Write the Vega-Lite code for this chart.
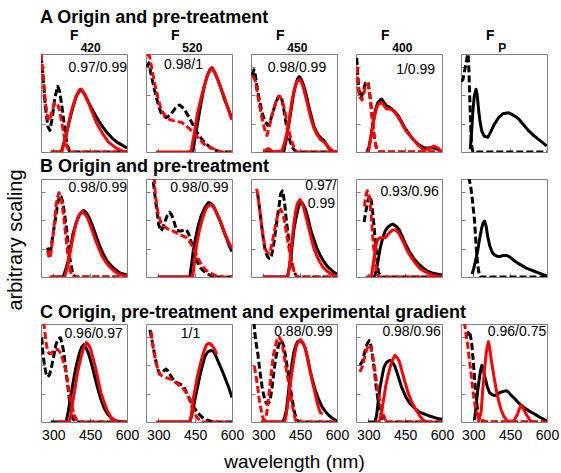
{
"$schema": "https://vega.github.io/schema/vega-lite/v6.json",
"background": "white",
"padding": {"left": 5, "top": 8, "right": 5, "bottom": 5},
"config": {
 "view": {"stroke": "#808080", "strokeWidth": 1},
 "font": "Liberation Sans",
 "axis": {"domain": false, "grid": false, "tickSize": -4, "tickColor": "#808080", "labelFontSize": 14, "labelColor": "#000", "labelPadding": 10, "labelFlush": false, "titleFontSize": 19, "titleFontWeight": "normal", "titleColor": "#000"},
 "title": {"color": "#000", "subtitleColor": "#000"},
 "concat": {"spacing": 19}
},
"title": {"text": "arbitrary scaling", "orient": "left", "anchor": "middle", "fontSize": 20, "fontWeight": "normal", "offset": 14},
"datasets": {
"labels": [
{"p":"A1","t":"0.97/0.99","x":600,"y":0.82},
{"p":"A2","t":"0.98/1","x":482,"y":0.85},
{"p":"A3","t":"0.98/0.99","x":556,"y":0.82},
{"p":"A4","t":"1/0.99","x":572,"y":0.8},
{"p":"B1","t":"0.98/0.99","x":600,"y":0.87},
{"p":"B2","t":"0.98/0.99","x":586,"y":0.87},
{"p":"B3","t":"0.97/","x":598,"y":0.89},
{"p":"B3","t":"0.99","x":592,"y":0.7},
{"p":"B4","t":"0.93/0.96","x":587,"y":0.83},
{"p":"C1","t":"0.96/0.97","x":583,"y":0.86},
{"p":"C2","t":"1/1","x":471,"y":0.86},
{"p":"C3","t":"0.88/0.99","x":582,"y":0.875},
{"p":"C4","t":"0.98/0.96","x":595,"y":0.875},
{"p":"C5","t":"0.96/0.75","x":597,"y":0.875}
],
"curves": [
{"p":"A1","s":"black","k":"ex","x":250,"y":0.98},{"p":"A1","s":"black","k":"ex","x":258,"y":0.8},{"p":"A1","s":"black","k":"ex","x":268,"y":0.45},{"p":"A1","s":"black","k":"ex","x":278,"y":0.26},{"p":"A1","s":"black","k":"ex","x":286,"y":0.22},{"p":"A1","s":"black","k":"ex","x":296,"y":0.35},{"p":"A1","s":"black","k":"ex","x":306,"y":0.55},{"p":"A1","s":"black","k":"ex","x":318,"y":0.67},{"p":"A1","s":"black","k":"ex","x":326,"y":0.62},{"p":"A1","s":"black","k":"ex","x":336,"y":0.45},{"p":"A1","s":"black","k":"ex","x":346,"y":0.25},{"p":"A1","s":"black","k":"ex","x":356,"y":0.08},{"p":"A1","s":"black","k":"ex","x":366,"y":0.01},{"p":"A1","s":"black","k":"ex","x":380,"y":0},{"p":"A1","s":"black","k":"ex","x":600,"y":0},
{"p":"A1","s":"black","k":"em","x":290,"y":0},{"p":"A1","s":"black","k":"em","x":332,"y":0},{"p":"A1","s":"black","k":"em","x":350,"y":0.15},{"p":"A1","s":"black","k":"em","x":367,"y":0.33},{"p":"A1","s":"black","k":"em","x":380,"y":0.46},{"p":"A1","s":"black","k":"em","x":394,"y":0.57},{"p":"A1","s":"black","k":"em","x":411,"y":0.64},{"p":"A1","s":"black","k":"em","x":425,"y":0.6},{"p":"A1","s":"black","k":"em","x":435,"y":0.55},{"p":"A1","s":"black","k":"em","x":455,"y":0.45},{"p":"A1","s":"black","k":"em","x":477,"y":0.35},{"p":"A1","s":"black","k":"em","x":500,"y":0.26},{"p":"A1","s":"black","k":"em","x":518,"y":0.2},{"p":"A1","s":"black","k":"em","x":540,"y":0.14},{"p":"A1","s":"black","k":"em","x":559,"y":0.1},{"p":"A1","s":"black","k":"em","x":580,"y":0.07},{"p":"A1","s":"black","k":"em","x":600,"y":0.04},
{"p":"A1","s":"red","k":"ex","x":250,"y":1.0},{"p":"A1","s":"red","k":"ex","x":258,"y":0.8},{"p":"A1","s":"red","k":"ex","x":268,"y":0.5},{"p":"A1","s":"red","k":"ex","x":278,"y":0.34},{"p":"A1","s":"red","k":"ex","x":285,"y":0.32},{"p":"A1","s":"red","k":"ex","x":295,"y":0.42},{"p":"A1","s":"red","k":"ex","x":306,"y":0.5},{"p":"A1","s":"red","k":"ex","x":316,"y":0.5},{"p":"A1","s":"red","k":"ex","x":326,"y":0.42},{"p":"A1","s":"red","k":"ex","x":336,"y":0.28},{"p":"A1","s":"red","k":"ex","x":346,"y":0.14},{"p":"A1","s":"red","k":"ex","x":356,"y":0.05},{"p":"A1","s":"red","k":"ex","x":366,"y":0},{"p":"A1","s":"red","k":"ex","x":600,"y":0},
{"p":"A1","s":"red","k":"em","x":290,"y":0},{"p":"A1","s":"red","k":"em","x":335,"y":0},{"p":"A1","s":"red","k":"em","x":350,"y":0.15},{"p":"A1","s":"red","k":"em","x":370,"y":0.38},{"p":"A1","s":"red","k":"em","x":390,"y":0.55},{"p":"A1","s":"red","k":"em","x":405,"y":0.63},{"p":"A1","s":"red","k":"em","x":415,"y":0.64},{"p":"A1","s":"red","k":"em","x":430,"y":0.58},{"p":"A1","s":"red","k":"em","x":450,"y":0.46},{"p":"A1","s":"red","k":"em","x":475,"y":0.3},{"p":"A1","s":"red","k":"em","x":500,"y":0.19},{"p":"A1","s":"red","k":"em","x":525,"y":0.1},{"p":"A1","s":"red","k":"em","x":550,"y":0.05},{"p":"A1","s":"red","k":"em","x":575,"y":0.015},{"p":"A1","s":"red","k":"em","x":600,"y":0},

{"p":"A2","s":"black","k":"ex","x":254,"y":0.87},{"p":"A2","s":"black","k":"ex","x":262,"y":0.91},{"p":"A2","s":"black","k":"ex","x":270,"y":0.8},{"p":"A2","s":"black","k":"ex","x":284,"y":0.64},{"p":"A2","s":"black","k":"ex","x":298,"y":0.5},{"p":"A2","s":"black","k":"ex","x":311,"y":0.4},{"p":"A2","s":"black","k":"ex","x":331,"y":0.35},{"p":"A2","s":"black","k":"ex","x":350,"y":0.38},{"p":"A2","s":"black","k":"ex","x":370,"y":0.45},{"p":"A2","s":"black","k":"ex","x":386,"y":0.48},{"p":"A2","s":"black","k":"ex","x":405,"y":0.44},{"p":"A2","s":"black","k":"ex","x":426,"y":0.35},{"p":"A2","s":"black","k":"ex","x":445,"y":0.26},{"p":"A2","s":"black","k":"ex","x":460,"y":0.19},{"p":"A2","s":"black","k":"ex","x":480,"y":0.12},{"p":"A2","s":"black","k":"ex","x":501,"y":0.07},{"p":"A2","s":"black","k":"ex","x":520,"y":0.03},{"p":"A2","s":"black","k":"ex","x":542,"y":0.01},{"p":"A2","s":"black","k":"ex","x":560,"y":0},{"p":"A2","s":"black","k":"ex","x":600,"y":0},
{"p":"A2","s":"black","k":"em","x":420,"y":0},{"p":"A2","s":"black","k":"em","x":440,"y":0},{"p":"A2","s":"black","k":"em","x":457,"y":0.25},{"p":"A2","s":"black","k":"em","x":474,"y":0.5},{"p":"A2","s":"black","k":"em","x":488,"y":0.68},{"p":"A2","s":"black","k":"em","x":501,"y":0.79},{"p":"A2","s":"black","k":"em","x":510,"y":0.84},{"p":"A2","s":"black","k":"em","x":519,"y":0.86},{"p":"A2","s":"black","k":"em","x":530,"y":0.81},{"p":"A2","s":"black","k":"em","x":542,"y":0.74},{"p":"A2","s":"black","k":"em","x":555,"y":0.65},{"p":"A2","s":"black","k":"em","x":569,"y":0.54},{"p":"A2","s":"black","k":"em","x":585,"y":0.44},{"p":"A2","s":"black","k":"em","x":600,"y":0.34},
{"p":"A2","s":"red","k":"ex","x":253,"y":1.0},{"p":"A2","s":"red","k":"ex","x":264,"y":0.98},{"p":"A2","s":"red","k":"ex","x":274,"y":0.85},{"p":"A2","s":"red","k":"ex","x":284,"y":0.71},{"p":"A2","s":"red","k":"ex","x":298,"y":0.56},{"p":"A2","s":"red","k":"ex","x":311,"y":0.44},{"p":"A2","s":"red","k":"ex","x":325,"y":0.38},{"p":"A2","s":"red","k":"ex","x":338,"y":0.34},{"p":"A2","s":"red","k":"ex","x":360,"y":0.32},{"p":"A2","s":"red","k":"ex","x":379,"y":0.31},{"p":"A2","s":"red","k":"ex","x":396,"y":0.3},{"p":"A2","s":"red","k":"ex","x":413,"y":0.27},{"p":"A2","s":"red","k":"ex","x":430,"y":0.23},{"p":"A2","s":"red","k":"ex","x":447,"y":0.19},{"p":"A2","s":"red","k":"ex","x":467,"y":0.13},{"p":"A2","s":"red","k":"ex","x":487,"y":0.08},{"p":"A2","s":"red","k":"ex","x":508,"y":0.05},{"p":"A2","s":"red","k":"ex","x":528,"y":0.03},{"p":"A2","s":"red","k":"ex","x":555,"y":0},{"p":"A2","s":"red","k":"ex","x":600,"y":0},
{"p":"A2","s":"red","k":"em","x":291,"y":0},{"p":"A2","s":"red","k":"em","x":433,"y":0},{"p":"A2","s":"red","k":"em","x":447,"y":0.2},{"p":"A2","s":"red","k":"em","x":460,"y":0.4},{"p":"A2","s":"red","k":"em","x":474,"y":0.55},{"p":"A2","s":"red","k":"em","x":487,"y":0.67},{"p":"A2","s":"red","k":"em","x":498,"y":0.77},{"p":"A2","s":"red","k":"em","x":508,"y":0.82},{"p":"A2","s":"red","k":"em","x":517,"y":0.86},{"p":"A2","s":"red","k":"em","x":530,"y":0.81},{"p":"A2","s":"red","k":"em","x":542,"y":0.74},{"p":"A2","s":"red","k":"em","x":555,"y":0.65},{"p":"A2","s":"red","k":"em","x":569,"y":0.56},{"p":"A2","s":"red","k":"em","x":583,"y":0.45},{"p":"A2","s":"red","k":"em","x":596,"y":0.35},{"p":"A2","s":"red","k":"em","x":600,"y":0.33},

{"p":"A3","s":"black","k":"ex","x":254,"y":0.78},{"p":"A3","s":"black","k":"ex","x":262,"y":0.84},{"p":"A3","s":"black","k":"ex","x":268,"y":0.78},{"p":"A3","s":"black","k":"ex","x":274,"y":0.67},{"p":"A3","s":"black","k":"ex","x":285,"y":0.52},{"p":"A3","s":"black","k":"ex","x":295,"y":0.4},{"p":"A3","s":"black","k":"ex","x":306,"y":0.32},{"p":"A3","s":"black","k":"ex","x":318,"y":0.27},{"p":"A3","s":"black","k":"ex","x":330,"y":0.33},{"p":"A3","s":"black","k":"ex","x":342,"y":0.43},{"p":"A3","s":"black","k":"ex","x":352,"y":0.51},{"p":"A3","s":"black","k":"ex","x":363,"y":0.57},{"p":"A3","s":"black","k":"ex","x":370,"y":0.57},{"p":"A3","s":"black","k":"ex","x":376,"y":0.53},{"p":"A3","s":"black","k":"ex","x":383,"y":0.44},{"p":"A3","s":"black","k":"ex","x":390,"y":0.33},{"p":"A3","s":"black","k":"ex","x":400,"y":0.2},{"p":"A3","s":"black","k":"ex","x":410,"y":0.1},{"p":"A3","s":"black","k":"ex","x":420,"y":0.04},{"p":"A3","s":"black","k":"ex","x":430,"y":0.01},{"p":"A3","s":"black","k":"ex","x":440,"y":0},{"p":"A3","s":"black","k":"ex","x":600,"y":0},
{"p":"A3","s":"black","k":"em","x":300,"y":0},{"p":"A3","s":"black","k":"em","x":383,"y":0},{"p":"A3","s":"black","k":"em","x":393,"y":0.12},{"p":"A3","s":"black","k":"em","x":403,"y":0.27},{"p":"A3","s":"black","k":"em","x":414,"y":0.44},{"p":"A3","s":"black","k":"em","x":424,"y":0.6},{"p":"A3","s":"black","k":"em","x":432,"y":0.69},{"p":"A3","s":"black","k":"em","x":440,"y":0.75},{"p":"A3","s":"black","k":"em","x":447,"y":0.77},{"p":"A3","s":"black","k":"em","x":455,"y":0.74},{"p":"A3","s":"black","k":"em","x":464,"y":0.68},{"p":"A3","s":"black","k":"em","x":475,"y":0.58},{"p":"A3","s":"black","k":"em","x":485,"y":0.47},{"p":"A3","s":"black","k":"em","x":495,"y":0.37},{"p":"A3","s":"black","k":"em","x":505,"y":0.27},{"p":"A3","s":"black","k":"em","x":515,"y":0.21},{"p":"A3","s":"black","k":"em","x":525,"y":0.17},{"p":"A3","s":"black","k":"em","x":535,"y":0.14},{"p":"A3","s":"black","k":"em","x":546,"y":0.12},{"p":"A3","s":"black","k":"em","x":556,"y":0.08},{"p":"A3","s":"black","k":"em","x":566,"y":0.04},{"p":"A3","s":"black","k":"em","x":580,"y":0},{"p":"A3","s":"black","k":"em","x":600,"y":0},
{"p":"A3","s":"red","k":"ex","x":254,"y":0.77},{"p":"A3","s":"red","k":"ex","x":261,"y":0.76},{"p":"A3","s":"red","k":"ex","x":268,"y":0.72},{"p":"A3","s":"red","k":"ex","x":274,"y":0.63},{"p":"A3","s":"red","k":"ex","x":281,"y":0.53},{"p":"A3","s":"red","k":"ex","x":291,"y":0.39},{"p":"A3","s":"red","k":"ex","x":302,"y":0.27},{"p":"A3","s":"red","k":"ex","x":308,"y":0.21},{"p":"A3","s":"red","k":"ex","x":315,"y":0.17},{"p":"A3","s":"red","k":"ex","x":325,"y":0.26},{"p":"A3","s":"red","k":"ex","x":335,"y":0.37},{"p":"A3","s":"red","k":"ex","x":345,"y":0.46},{"p":"A3","s":"red","k":"ex","x":356,"y":0.55},{"p":"A3","s":"red","k":"ex","x":367,"y":0.57},{"p":"A3","s":"red","k":"ex","x":375,"y":0.53},{"p":"A3","s":"red","k":"ex","x":383,"y":0.47},{"p":"A3","s":"red","k":"ex","x":393,"y":0.35},{"p":"A3","s":"red","k":"ex","x":403,"y":0.23},{"p":"A3","s":"red","k":"ex","x":413,"y":0.13},{"p":"A3","s":"red","k":"ex","x":424,"y":0.05},{"p":"A3","s":"red","k":"ex","x":437,"y":0},{"p":"A3","s":"red","k":"ex","x":600,"y":0},
{"p":"A3","s":"red","k":"em","x":300,"y":0},{"p":"A3","s":"red","k":"em","x":310,"y":0.02},{"p":"A3","s":"red","k":"em","x":322,"y":0.035},{"p":"A3","s":"red","k":"em","x":335,"y":0.01},{"p":"A3","s":"red","k":"em","x":342,"y":0},{"p":"A3","s":"red","k":"em","x":376,"y":0.01},{"p":"A3","s":"red","k":"em","x":387,"y":0.1},{"p":"A3","s":"red","k":"em","x":397,"y":0.2},{"p":"A3","s":"red","k":"em","x":407,"y":0.36},{"p":"A3","s":"red","k":"em","x":417,"y":0.53},{"p":"A3","s":"red","k":"em","x":427,"y":0.64},{"p":"A3","s":"red","k":"em","x":437,"y":0.72},{"p":"A3","s":"red","k":"em","x":448,"y":0.74},{"p":"A3","s":"red","k":"em","x":456,"y":0.71},{"p":"A3","s":"red","k":"em","x":464,"y":0.65},{"p":"A3","s":"red","k":"em","x":475,"y":0.54},{"p":"A3","s":"red","k":"em","x":485,"y":0.43},{"p":"A3","s":"red","k":"em","x":495,"y":0.33},{"p":"A3","s":"red","k":"em","x":505,"y":0.25},{"p":"A3","s":"red","k":"em","x":518,"y":0.18},{"p":"A3","s":"red","k":"em","x":532,"y":0.13},{"p":"A3","s":"red","k":"em","x":543,"y":0.11},{"p":"A3","s":"red","k":"em","x":553,"y":0.09},{"p":"A3","s":"red","k":"em","x":563,"y":0.06},{"p":"A3","s":"red","k":"em","x":573,"y":0.03},{"p":"A3","s":"red","k":"em","x":585,"y":0.01},{"p":"A3","s":"red","k":"em","x":593,"y":0},

{"p":"A4","s":"black","k":"ex","x":253,"y":0.96},{"p":"A4","s":"black","k":"ex","x":257,"y":0.8},{"p":"A4","s":"black","k":"ex","x":261,"y":0.65},{"p":"A4","s":"black","k":"ex","x":266,"y":0.58},{"p":"A4","s":"black","k":"ex","x":271,"y":0.55},{"p":"A4","s":"black","k":"ex","x":279,"y":0.62},{"p":"A4","s":"black","k":"ex","x":288,"y":0.7},{"p":"A4","s":"black","k":"ex","x":298,"y":0.72},{"p":"A4","s":"black","k":"ex","x":303,"y":0.65},{"p":"A4","s":"black","k":"ex","x":308,"y":0.55},{"p":"A4","s":"black","k":"ex","x":314,"y":0.4},{"p":"A4","s":"black","k":"ex","x":321,"y":0.21},{"p":"A4","s":"black","k":"ex","x":328,"y":0.1},{"p":"A4","s":"black","k":"ex","x":334,"y":0.03},{"p":"A4","s":"black","k":"ex","x":345,"y":0},{"p":"A4","s":"black","k":"ex","x":600,"y":0},
{"p":"A4","s":"black","k":"em","x":294,"y":0},{"p":"A4","s":"black","k":"em","x":303,"y":0.05},{"p":"A4","s":"black","k":"em","x":312,"y":0.18},{"p":"A4","s":"black","k":"em","x":320,"y":0.3},{"p":"A4","s":"black","k":"em","x":328,"y":0.42},{"p":"A4","s":"black","k":"em","x":338,"y":0.5},{"p":"A4","s":"black","k":"em","x":348,"y":0.53},{"p":"A4","s":"black","k":"em","x":355,"y":0.54},{"p":"A4","s":"black","k":"em","x":365,"y":0.5},{"p":"A4","s":"black","k":"em","x":375,"y":0.47},{"p":"A4","s":"black","k":"em","x":385,"y":0.46},{"p":"A4","s":"black","k":"em","x":395,"y":0.44},{"p":"A4","s":"black","k":"em","x":408,"y":0.41},{"p":"A4","s":"black","k":"em","x":422,"y":0.37},{"p":"A4","s":"black","k":"em","x":435,"y":0.31},{"p":"A4","s":"black","k":"em","x":448,"y":0.25},{"p":"A4","s":"black","k":"em","x":462,"y":0.2},{"p":"A4","s":"black","k":"em","x":475,"y":0.15},{"p":"A4","s":"black","k":"em","x":490,"y":0.11},{"p":"A4","s":"black","k":"em","x":502,"y":0.08},{"p":"A4","s":"black","k":"em","x":515,"y":0.06},{"p":"A4","s":"black","k":"em","x":529,"y":0.04},{"p":"A4","s":"black","k":"em","x":545,"y":0.04},{"p":"A4","s":"black","k":"em","x":556,"y":0.04},{"p":"A4","s":"black","k":"em","x":568,"y":0.04},{"p":"A4","s":"black","k":"em","x":580,"y":0.03},{"p":"A4","s":"black","k":"em","x":596,"y":0.01},{"p":"A4","s":"black","k":"em","x":600,"y":0.01},
{"p":"A4","s":"red","k":"ex","x":253,"y":0.87},{"p":"A4","s":"red","k":"ex","x":257,"y":0.74},{"p":"A4","s":"red","k":"ex","x":261,"y":0.62},{"p":"A4","s":"red","k":"ex","x":267,"y":0.56},{"p":"A4","s":"red","k":"ex","x":274,"y":0.53},{"p":"A4","s":"red","k":"ex","x":282,"y":0.6},{"p":"A4","s":"red","k":"ex","x":290,"y":0.69},{"p":"A4","s":"red","k":"ex","x":297,"y":0.69},{"p":"A4","s":"red","k":"ex","x":301,"y":0.67},{"p":"A4","s":"red","k":"ex","x":306,"y":0.58},{"p":"A4","s":"red","k":"ex","x":312,"y":0.45},{"p":"A4","s":"red","k":"ex","x":318,"y":0.3},{"p":"A4","s":"red","k":"ex","x":325,"y":0.15},{"p":"A4","s":"red","k":"ex","x":331,"y":0.06},{"p":"A4","s":"red","k":"ex","x":338,"y":0.01},{"p":"A4","s":"red","k":"ex","x":345,"y":0},{"p":"A4","s":"red","k":"ex","x":600,"y":0},
{"p":"A4","s":"red","k":"em","x":290,"y":0},{"p":"A4","s":"red","k":"em","x":301,"y":0},{"p":"A4","s":"red","k":"em","x":309,"y":0.12},{"p":"A4","s":"red","k":"em","x":317,"y":0.25},{"p":"A4","s":"red","k":"em","x":325,"y":0.36},{"p":"A4","s":"red","k":"em","x":334,"y":0.45},{"p":"A4","s":"red","k":"em","x":342,"y":0.49},{"p":"A4","s":"red","k":"em","x":350,"y":0.5},{"p":"A4","s":"red","k":"em","x":360,"y":0.49},{"p":"A4","s":"red","k":"em","x":368,"y":0.46},{"p":"A4","s":"red","k":"em","x":375,"y":0.44},{"p":"A4","s":"red","k":"em","x":381,"y":0.44},{"p":"A4","s":"red","k":"em","x":390,"y":0.44},{"p":"A4","s":"red","k":"em","x":402,"y":0.42},{"p":"A4","s":"red","k":"em","x":415,"y":0.38},{"p":"A4","s":"red","k":"em","x":428,"y":0.33},{"p":"A4","s":"red","k":"em","x":441,"y":0.27},{"p":"A4","s":"red","k":"em","x":455,"y":0.21},{"p":"A4","s":"red","k":"em","x":472,"y":0.16},{"p":"A4","s":"red","k":"em","x":489,"y":0.11},{"p":"A4","s":"red","k":"em","x":503,"y":0.07},{"p":"A4","s":"red","k":"em","x":516,"y":0.04},{"p":"A4","s":"red","k":"em","x":529,"y":0.01},{"p":"A4","s":"red","k":"em","x":539,"y":0.03},{"p":"A4","s":"red","k":"em","x":549,"y":0.04},{"p":"A4","s":"red","k":"em","x":558,"y":0.05},{"p":"A4","s":"red","k":"em","x":567,"y":0.06},{"p":"A4","s":"red","k":"em","x":576,"y":0.05},{"p":"A4","s":"red","k":"em","x":585,"y":0.04},{"p":"A4","s":"red","k":"em","x":591,"y":0.02},{"p":"A4","s":"red","k":"em","x":596,"y":0},

{"p":"A5","s":"black","k":"ex","x":251,"y":0.72},{"p":"A5","s":"black","k":"ex","x":258,"y":0.74},{"p":"A5","s":"black","k":"ex","x":264,"y":0.82},{"p":"A5","s":"black","k":"ex","x":270,"y":0.9},{"p":"A5","s":"black","k":"ex","x":276,"y":0.98},{"p":"A5","s":"black","k":"ex","x":279,"y":1.0},{"p":"A5","s":"black","k":"ex","x":282,"y":0.85},{"p":"A5","s":"black","k":"ex","x":285,"y":0.6},{"p":"A5","s":"black","k":"ex","x":289,"y":0.3},{"p":"A5","s":"black","k":"ex","x":292,"y":0.1},{"p":"A5","s":"black","k":"ex","x":296,"y":0.02},{"p":"A5","s":"black","k":"ex","x":300,"y":0},{"p":"A5","s":"black","k":"ex","x":600,"y":0},
{"p":"A5","s":"black","k":"em","x":288,"y":0.03},{"p":"A5","s":"black","k":"em","x":293,"y":0.2},{"p":"A5","s":"black","k":"em","x":298,"y":0.4},{"p":"A5","s":"black","k":"em","x":304,"y":0.57},{"p":"A5","s":"black","k":"em","x":311,"y":0.64},{"p":"A5","s":"black","k":"em","x":316,"y":0.58},{"p":"A5","s":"black","k":"em","x":322,"y":0.42},{"p":"A5","s":"black","k":"em","x":328,"y":0.3},{"p":"A5","s":"black","k":"em","x":335,"y":0.21},{"p":"A5","s":"black","k":"em","x":345,"y":0.16},{"p":"A5","s":"black","k":"em","x":359,"y":0.15},{"p":"A5","s":"black","k":"em","x":370,"y":0.2},{"p":"A5","s":"black","k":"em","x":385,"y":0.28},{"p":"A5","s":"black","k":"em","x":403,"y":0.35},{"p":"A5","s":"black","k":"em","x":420,"y":0.39},{"p":"A5","s":"black","k":"em","x":443,"y":0.4},{"p":"A5","s":"black","k":"em","x":460,"y":0.38},{"p":"A5","s":"black","k":"em","x":484,"y":0.34},{"p":"A5","s":"black","k":"em","x":504,"y":0.28},{"p":"A5","s":"black","k":"em","x":524,"y":0.22},{"p":"A5","s":"black","k":"em","x":545,"y":0.17},{"p":"A5","s":"black","k":"em","x":565,"y":0.13},{"p":"A5","s":"black","k":"em","x":585,"y":0.09},{"p":"A5","s":"black","k":"em","x":599,"y":0.06},

{"p":"B1","s":"black","k":"ex","x":277,"y":0.3},{"p":"B1","s":"black","k":"ex","x":284,"y":0.22},{"p":"B1","s":"black","k":"ex","x":290,"y":0.28},{"p":"B1","s":"black","k":"ex","x":295,"y":0.37},{"p":"B1","s":"black","k":"ex","x":303,"y":0.5},{"p":"B1","s":"black","k":"ex","x":312,"y":0.64},{"p":"B1","s":"black","k":"ex","x":318,"y":0.75},{"p":"B1","s":"black","k":"ex","x":325,"y":0.83},{"p":"B1","s":"black","k":"ex","x":332,"y":0.82},{"p":"B1","s":"black","k":"ex","x":339,"y":0.76},{"p":"B1","s":"black","k":"ex","x":346,"y":0.64},{"p":"B1","s":"black","k":"ex","x":353,"y":0.51},{"p":"B1","s":"black","k":"ex","x":360,"y":0.35},{"p":"B1","s":"black","k":"ex","x":367,"y":0.2},{"p":"B1","s":"black","k":"ex","x":374,"y":0.1},{"p":"B1","s":"black","k":"ex","x":380,"y":0.03},{"p":"B1","s":"black","k":"ex","x":390,"y":0},{"p":"B1","s":"black","k":"ex","x":600,"y":0},
{"p":"B1","s":"black","k":"em","x":290,"y":0},{"p":"B1","s":"black","k":"em","x":339,"y":0},{"p":"B1","s":"black","k":"em","x":350,"y":0.07},{"p":"B1","s":"black","k":"em","x":360,"y":0.16},{"p":"B1","s":"black","k":"em","x":370,"y":0.3},{"p":"B1","s":"black","k":"em","x":380,"y":0.44},{"p":"B1","s":"black","k":"em","x":394,"y":0.56},{"p":"B1","s":"black","k":"em","x":408,"y":0.64},{"p":"B1","s":"black","k":"em","x":424,"y":0.68},{"p":"B1","s":"black","k":"em","x":436,"y":0.65},{"p":"B1","s":"black","k":"em","x":449,"y":0.59},{"p":"B1","s":"black","k":"em","x":463,"y":0.5},{"p":"B1","s":"black","k":"em","x":477,"y":0.4},{"p":"B1","s":"black","k":"em","x":490,"y":0.31},{"p":"B1","s":"black","k":"em","x":504,"y":0.23},{"p":"B1","s":"black","k":"em","x":520,"y":0.16},{"p":"B1","s":"black","k":"em","x":538,"y":0.11},{"p":"B1","s":"black","k":"em","x":555,"y":0.07},{"p":"B1","s":"black","k":"em","x":573,"y":0.04},{"p":"B1","s":"black","k":"em","x":600,"y":0.02},
{"p":"B1","s":"red","k":"ex","x":277,"y":0.27},{"p":"B1","s":"red","k":"ex","x":282,"y":0.21},{"p":"B1","s":"red","k":"ex","x":287,"y":0.19},{"p":"B1","s":"red","k":"ex","x":292,"y":0.28},{"p":"B1","s":"red","k":"ex","x":298,"y":0.4},{"p":"B1","s":"red","k":"ex","x":305,"y":0.57},{"p":"B1","s":"red","k":"ex","x":312,"y":0.74},{"p":"B1","s":"red","k":"ex","x":318,"y":0.82},{"p":"B1","s":"red","k":"ex","x":323,"y":0.86},{"p":"B1","s":"red","k":"ex","x":330,"y":0.82},{"p":"B1","s":"red","k":"ex","x":336,"y":0.74},{"p":"B1","s":"red","k":"ex","x":343,"y":0.6},{"p":"B1","s":"red","k":"ex","x":350,"y":0.44},{"p":"B1","s":"red","k":"ex","x":357,"y":0.28},{"p":"B1","s":"red","k":"ex","x":364,"y":0.13},{"p":"B1","s":"red","k":"ex","x":371,"y":0.05},{"p":"B1","s":"red","k":"ex","x":378,"y":0},{"p":"B1","s":"red","k":"ex","x":600,"y":0},
{"p":"B1","s":"red","k":"em","x":284,"y":0},{"p":"B1","s":"red","k":"em","x":346,"y":0},{"p":"B1","s":"red","k":"em","x":353,"y":0.06},{"p":"B1","s":"red","k":"em","x":360,"y":0.13},{"p":"B1","s":"red","k":"em","x":370,"y":0.27},{"p":"B1","s":"red","k":"em","x":380,"y":0.4},{"p":"B1","s":"red","k":"em","x":390,"y":0.52},{"p":"B1","s":"red","k":"em","x":401,"y":0.61},{"p":"B1","s":"red","k":"em","x":410,"y":0.65},{"p":"B1","s":"red","k":"em","x":419,"y":0.67},{"p":"B1","s":"red","k":"em","x":430,"y":0.64},{"p":"B1","s":"red","k":"em","x":442,"y":0.59},{"p":"B1","s":"red","k":"em","x":456,"y":0.49},{"p":"B1","s":"red","k":"em","x":470,"y":0.39},{"p":"B1","s":"red","k":"em","x":484,"y":0.3},{"p":"B1","s":"red","k":"em","x":497,"y":0.22},{"p":"B1","s":"red","k":"em","x":514,"y":0.15},{"p":"B1","s":"red","k":"em","x":531,"y":0.1},{"p":"B1","s":"red","k":"em","x":548,"y":0.06},{"p":"B1","s":"red","k":"em","x":566,"y":0.03},{"p":"B1","s":"red","k":"em","x":583,"y":0.015},{"p":"B1","s":"red","k":"em","x":600,"y":0.01},

{"p":"B2","s":"black","k":"ex","x":280,"y":0.97},{"p":"B2","s":"black","k":"ex","x":285,"y":0.86},{"p":"B2","s":"black","k":"ex","x":291,"y":0.74},{"p":"B2","s":"black","k":"ex","x":297,"y":0.63},{"p":"B2","s":"black","k":"ex","x":302,"y":0.53},{"p":"B2","s":"black","k":"ex","x":312,"y":0.47},{"p":"B2","s":"black","k":"ex","x":318,"y":0.5},{"p":"B2","s":"black","k":"ex","x":325,"y":0.55},{"p":"B2","s":"black","k":"ex","x":335,"y":0.62},{"p":"B2","s":"black","k":"ex","x":346,"y":0.66},{"p":"B2","s":"black","k":"ex","x":353,"y":0.64},{"p":"B2","s":"black","k":"ex","x":360,"y":0.6},{"p":"B2","s":"black","k":"ex","x":367,"y":0.54},{"p":"B2","s":"black","k":"ex","x":374,"y":0.48},{"p":"B2","s":"black","k":"ex","x":384,"y":0.47},{"p":"B2","s":"black","k":"ex","x":394,"y":0.47},{"p":"B2","s":"black","k":"ex","x":405,"y":0.48},{"p":"B2","s":"black","k":"ex","x":415,"y":0.48},{"p":"B2","s":"black","k":"ex","x":422,"y":0.45},{"p":"B2","s":"black","k":"ex","x":428,"y":0.41},{"p":"B2","s":"black","k":"ex","x":438,"y":0.32},{"p":"B2","s":"black","k":"ex","x":449,"y":0.22},{"p":"B2","s":"black","k":"ex","x":460,"y":0.15},{"p":"B2","s":"black","k":"ex","x":470,"y":0.1},{"p":"B2","s":"black","k":"ex","x":480,"y":0.07},{"p":"B2","s":"black","k":"ex","x":490,"y":0.05},{"p":"B2","s":"black","k":"ex","x":500,"y":0.03},{"p":"B2","s":"black","k":"ex","x":511,"y":0.02},{"p":"B2","s":"black","k":"ex","x":531,"y":0},{"p":"B2","s":"black","k":"ex","x":600,"y":0},
{"p":"B2","s":"black","k":"em","x":300,"y":0},{"p":"B2","s":"black","k":"em","x":428,"y":0},{"p":"B2","s":"black","k":"em","x":435,"y":0.12},{"p":"B2","s":"black","k":"em","x":442,"y":0.26},{"p":"B2","s":"black","k":"em","x":452,"y":0.4},{"p":"B2","s":"black","k":"em","x":463,"y":0.53},{"p":"B2","s":"black","k":"em","x":474,"y":0.62},{"p":"B2","s":"black","k":"em","x":486,"y":0.69},{"p":"B2","s":"black","k":"em","x":495,"y":0.73},{"p":"B2","s":"black","k":"em","x":504,"y":0.76},{"p":"B2","s":"black","k":"em","x":514,"y":0.75},{"p":"B2","s":"black","k":"em","x":525,"y":0.72},{"p":"B2","s":"black","k":"em","x":538,"y":0.65},{"p":"B2","s":"black","k":"em","x":552,"y":0.57},{"p":"B2","s":"black","k":"em","x":566,"y":0.47},{"p":"B2","s":"black","k":"em","x":580,"y":0.38},{"p":"B2","s":"black","k":"em","x":590,"y":0.31},{"p":"B2","s":"black","k":"em","x":600,"y":0.26},
{"p":"B2","s":"red","k":"ex","x":283,"y":1.02},{"p":"B2","s":"red","k":"ex","x":288,"y":0.84},{"p":"B2","s":"red","k":"ex","x":293,"y":0.75},{"p":"B2","s":"red","k":"ex","x":298,"y":0.67},{"p":"B2","s":"red","k":"ex","x":305,"y":0.6},{"p":"B2","s":"red","k":"ex","x":312,"y":0.55},{"p":"B2","s":"red","k":"ex","x":322,"y":0.52},{"p":"B2","s":"red","k":"ex","x":332,"y":0.5},{"p":"B2","s":"red","k":"ex","x":346,"y":0.48},{"p":"B2","s":"red","k":"ex","x":360,"y":0.47},{"p":"B2","s":"red","k":"ex","x":374,"y":0.45},{"p":"B2","s":"red","k":"ex","x":387,"y":0.43},{"p":"B2","s":"red","k":"ex","x":400,"y":0.42},{"p":"B2","s":"red","k":"ex","x":415,"y":0.4},{"p":"B2","s":"red","k":"ex","x":425,"y":0.37},{"p":"B2","s":"red","k":"ex","x":435,"y":0.33},{"p":"B2","s":"red","k":"ex","x":445,"y":0.28},{"p":"B2","s":"red","k":"ex","x":456,"y":0.22},{"p":"B2","s":"red","k":"ex","x":466,"y":0.17},{"p":"B2","s":"red","k":"ex","x":477,"y":0.12},{"p":"B2","s":"red","k":"ex","x":490,"y":0.08},{"p":"B2","s":"red","k":"ex","x":504,"y":0.05},{"p":"B2","s":"red","k":"ex","x":520,"y":0.03},{"p":"B2","s":"red","k":"ex","x":538,"y":0.01},{"p":"B2","s":"red","k":"ex","x":560,"y":0},{"p":"B2","s":"red","k":"ex","x":600,"y":0},
{"p":"B2","s":"red","k":"em","x":298,"y":0},{"p":"B2","s":"red","k":"em","x":440,"y":0},{"p":"B2","s":"red","k":"em","x":448,"y":0.16},{"p":"B2","s":"red","k":"em","x":456,"y":0.33},{"p":"B2","s":"red","k":"em","x":466,"y":0.46},{"p":"B2","s":"red","k":"em","x":477,"y":0.57},{"p":"B2","s":"red","k":"em","x":487,"y":0.65},{"p":"B2","s":"red","k":"em","x":497,"y":0.71},{"p":"B2","s":"red","k":"em","x":506,"y":0.73},{"p":"B2","s":"red","k":"em","x":514,"y":0.74},{"p":"B2","s":"red","k":"em","x":522,"y":0.72},{"p":"B2","s":"red","k":"em","x":531,"y":0.69},{"p":"B2","s":"red","k":"em","x":545,"y":0.61},{"p":"B2","s":"red","k":"em","x":559,"y":0.53},{"p":"B2","s":"red","k":"em","x":572,"y":0.44},{"p":"B2","s":"red","k":"em","x":586,"y":0.36},{"p":"B2","s":"red","k":"em","x":600,"y":0.29},

{"p":"B3","s":"black","k":"ex","x":277,"y":0.85},{"p":"B3","s":"black","k":"ex","x":284,"y":0.72},{"p":"B3","s":"black","k":"ex","x":290,"y":0.59},{"p":"B3","s":"black","k":"ex","x":297,"y":0.45},{"p":"B3","s":"black","k":"ex","x":304,"y":0.32},{"p":"B3","s":"black","k":"ex","x":310,"y":0.25},{"p":"B3","s":"black","k":"ex","x":317,"y":0.21},{"p":"B3","s":"black","k":"ex","x":324,"y":0.19},{"p":"B3","s":"black","k":"ex","x":331,"y":0.19},{"p":"B3","s":"black","k":"ex","x":337,"y":0.26},{"p":"B3","s":"black","k":"ex","x":344,"y":0.36},{"p":"B3","s":"black","k":"ex","x":351,"y":0.49},{"p":"B3","s":"black","k":"ex","x":358,"y":0.62},{"p":"B3","s":"black","k":"ex","x":365,"y":0.74},{"p":"B3","s":"black","k":"ex","x":371,"y":0.85},{"p":"B3","s":"black","k":"ex","x":378,"y":0.88},{"p":"B3","s":"black","k":"ex","x":383,"y":0.82},{"p":"B3","s":"black","k":"ex","x":387,"y":0.75},{"p":"B3","s":"black","k":"ex","x":392,"y":0.62},{"p":"B3","s":"black","k":"ex","x":398,"y":0.49},{"p":"B3","s":"black","k":"ex","x":405,"y":0.35},{"p":"B3","s":"black","k":"ex","x":412,"y":0.22},{"p":"B3","s":"black","k":"ex","x":418,"y":0.13},{"p":"B3","s":"black","k":"ex","x":425,"y":0.06},{"p":"B3","s":"black","k":"ex","x":432,"y":0.02},{"p":"B3","s":"black","k":"ex","x":438,"y":0},{"p":"B3","s":"black","k":"ex","x":600,"y":0},
{"p":"B3","s":"black","k":"em","x":300,"y":0},{"p":"B3","s":"black","k":"em","x":398,"y":0},{"p":"B3","s":"black","k":"em","x":405,"y":0.08},{"p":"B3","s":"black","k":"em","x":412,"y":0.19},{"p":"B3","s":"black","k":"em","x":418,"y":0.33},{"p":"B3","s":"black","k":"em","x":425,"y":0.49},{"p":"B3","s":"black","k":"em","x":433,"y":0.6},{"p":"B3","s":"black","k":"em","x":441,"y":0.69},{"p":"B3","s":"black","k":"em","x":447,"y":0.74},{"p":"B3","s":"black","k":"em","x":452,"y":0.77},{"p":"B3","s":"black","k":"em","x":460,"y":0.75},{"p":"B3","s":"black","k":"em","x":472,"y":0.69},{"p":"B3","s":"black","k":"em","x":482,"y":0.6},{"p":"B3","s":"black","k":"em","x":492,"y":0.49},{"p":"B3","s":"black","k":"em","x":505,"y":0.39},{"p":"B3","s":"black","k":"em","x":519,"y":0.29},{"p":"B3","s":"black","k":"em","x":532,"y":0.22},{"p":"B3","s":"black","k":"em","x":546,"y":0.16},{"p":"B3","s":"black","k":"em","x":560,"y":0.11},{"p":"B3","s":"black","k":"em","x":573,"y":0.08},{"p":"B3","s":"black","k":"em","x":586,"y":0.05},{"p":"B3","s":"black","k":"em","x":600,"y":0.03},
{"p":"B3","s":"red","k":"ex","x":272,"y":0.9},{"p":"B3","s":"red","k":"ex","x":275,"y":0.88},{"p":"B3","s":"red","k":"ex","x":279,"y":0.8},{"p":"B3","s":"red","k":"ex","x":284,"y":0.72},{"p":"B3","s":"red","k":"ex","x":290,"y":0.59},{"p":"B3","s":"red","k":"ex","x":297,"y":0.45},{"p":"B3","s":"red","k":"ex","x":304,"y":0.35},{"p":"B3","s":"red","k":"ex","x":311,"y":0.27},{"p":"B3","s":"red","k":"ex","x":317,"y":0.25},{"p":"B3","s":"red","k":"ex","x":324,"y":0.24},{"p":"B3","s":"red","k":"ex","x":330,"y":0.28},{"p":"B3","s":"red","k":"ex","x":337,"y":0.36},{"p":"B3","s":"red","k":"ex","x":344,"y":0.45},{"p":"B3","s":"red","k":"ex","x":351,"y":0.55},{"p":"B3","s":"red","k":"ex","x":358,"y":0.62},{"p":"B3","s":"red","k":"ex","x":364,"y":0.67},{"p":"B3","s":"red","k":"ex","x":371,"y":0.69},{"p":"B3","s":"red","k":"ex","x":378,"y":0.65},{"p":"B3","s":"red","k":"ex","x":385,"y":0.59},{"p":"B3","s":"red","k":"ex","x":391,"y":0.5},{"p":"B3","s":"red","k":"ex","x":398,"y":0.39},{"p":"B3","s":"red","k":"ex","x":405,"y":0.29},{"p":"B3","s":"red","k":"ex","x":412,"y":0.19},{"p":"B3","s":"red","k":"ex","x":418,"y":0.12},{"p":"B3","s":"red","k":"ex","x":425,"y":0.06},{"p":"B3","s":"red","k":"ex","x":432,"y":0.02},{"p":"B3","s":"red","k":"ex","x":438,"y":0},{"p":"B3","s":"red","k":"ex","x":600,"y":0},
{"p":"B3","s":"red","k":"em","x":297,"y":0},{"p":"B3","s":"red","k":"em","x":400,"y":0},{"p":"B3","s":"red","k":"em","x":406,"y":0.1},{"p":"B3","s":"red","k":"em","x":412,"y":0.26},{"p":"B3","s":"red","k":"em","x":418,"y":0.4},{"p":"B3","s":"red","k":"em","x":425,"y":0.55},{"p":"B3","s":"red","k":"em","x":431,"y":0.66},{"p":"B3","s":"red","k":"em","x":438,"y":0.74},{"p":"B3","s":"red","k":"em","x":444,"y":0.77},{"p":"B3","s":"red","k":"em","x":449,"y":0.79},{"p":"B3","s":"red","k":"em","x":457,"y":0.76},{"p":"B3","s":"red","k":"em","x":465,"y":0.7},{"p":"B3","s":"red","k":"em","x":475,"y":0.6},{"p":"B3","s":"red","k":"em","x":486,"y":0.49},{"p":"B3","s":"red","k":"em","x":496,"y":0.39},{"p":"B3","s":"red","k":"em","x":506,"y":0.29},{"p":"B3","s":"red","k":"em","x":519,"y":0.21},{"p":"B3","s":"red","k":"em","x":533,"y":0.14},{"p":"B3","s":"red","k":"em","x":546,"y":0.09},{"p":"B3","s":"red","k":"em","x":560,"y":0.06},{"p":"B3","s":"red","k":"em","x":575,"y":0.03},{"p":"B3","s":"red","k":"em","x":593,"y":0.01},{"p":"B3","s":"red","k":"em","x":600,"y":0.01},

{"p":"B4","s":"black","k":"ex","x":283,"y":0.56},{"p":"B4","s":"black","k":"ex","x":287,"y":0.62},{"p":"B4","s":"black","k":"ex","x":291,"y":0.68},{"p":"B4","s":"black","k":"ex","x":296,"y":0.75},{"p":"B4","s":"black","k":"ex","x":301,"y":0.8},{"p":"B4","s":"black","k":"ex","x":307,"y":0.83},{"p":"B4","s":"black","k":"ex","x":312,"y":0.78},{"p":"B4","s":"black","k":"ex","x":318,"y":0.66},{"p":"B4","s":"black","k":"ex","x":323,"y":0.53},{"p":"B4","s":"black","k":"ex","x":328,"y":0.39},{"p":"B4","s":"black","k":"ex","x":333,"y":0.25},{"p":"B4","s":"black","k":"ex","x":337,"y":0.12},{"p":"B4","s":"black","k":"ex","x":342,"y":0.05},{"p":"B4","s":"black","k":"ex","x":348,"y":0.02},{"p":"B4","s":"black","k":"ex","x":355,"y":0},{"p":"B4","s":"black","k":"ex","x":600,"y":0},
{"p":"B4","s":"black","k":"em","x":300,"y":0},{"p":"B4","s":"black","k":"em","x":320,"y":0},{"p":"B4","s":"black","k":"em","x":328,"y":0.02},{"p":"B4","s":"black","k":"em","x":338,"y":0.14},{"p":"B4","s":"black","k":"em","x":348,"y":0.29},{"p":"B4","s":"black","k":"em","x":358,"y":0.39},{"p":"B4","s":"black","k":"em","x":369,"y":0.47},{"p":"B4","s":"black","k":"em","x":380,"y":0.51},{"p":"B4","s":"black","k":"em","x":390,"y":0.53},{"p":"B4","s":"black","k":"em","x":400,"y":0.54},{"p":"B4","s":"black","k":"em","x":412,"y":0.52},{"p":"B4","s":"black","k":"em","x":424,"y":0.49},{"p":"B4","s":"black","k":"em","x":437,"y":0.42},{"p":"B4","s":"black","k":"em","x":451,"y":0.34},{"p":"B4","s":"black","k":"em","x":467,"y":0.26},{"p":"B4","s":"black","k":"em","x":485,"y":0.19},{"p":"B4","s":"black","k":"em","x":502,"y":0.14},{"p":"B4","s":"black","k":"em","x":519,"y":0.1},{"p":"B4","s":"black","k":"em","x":540,"y":0.06},{"p":"B4","s":"black","k":"em","x":560,"y":0.04},{"p":"B4","s":"black","k":"em","x":580,"y":0.03},{"p":"B4","s":"black","k":"em","x":600,"y":0.02},
{"p":"B4","s":"red","k":"ex","x":285,"y":0.72},{"p":"B4","s":"red","k":"ex","x":287,"y":0.78},{"p":"B4","s":"red","k":"ex","x":291,"y":0.84},{"p":"B4","s":"red","k":"ex","x":296,"y":0.88},{"p":"B4","s":"red","k":"ex","x":301,"y":0.85},{"p":"B4","s":"red","k":"ex","x":307,"y":0.76},{"p":"B4","s":"red","k":"ex","x":312,"y":0.62},{"p":"B4","s":"red","k":"ex","x":318,"y":0.42},{"p":"B4","s":"red","k":"ex","x":323,"y":0.28},{"p":"B4","s":"red","k":"ex","x":328,"y":0.15},{"p":"B4","s":"red","k":"ex","x":333,"y":0.07},{"p":"B4","s":"red","k":"ex","x":337,"y":0.02},{"p":"B4","s":"red","k":"ex","x":345,"y":0},{"p":"B4","s":"red","k":"ex","x":600,"y":0},
{"p":"B4","s":"red","k":"em","x":290,"y":0},{"p":"B4","s":"red","k":"em","x":312,"y":0},{"p":"B4","s":"red","k":"em","x":316,"y":0.06},{"p":"B4","s":"red","k":"em","x":321,"y":0.15},{"p":"B4","s":"red","k":"em","x":328,"y":0.27},{"p":"B4","s":"red","k":"em","x":335,"y":0.36},{"p":"B4","s":"red","k":"em","x":342,"y":0.39},{"p":"B4","s":"red","k":"em","x":348,"y":0.4},{"p":"B4","s":"red","k":"em","x":358,"y":0.4},{"p":"B4","s":"red","k":"em","x":369,"y":0.4},{"p":"B4","s":"red","k":"em","x":379,"y":0.43},{"p":"B4","s":"red","k":"em","x":389,"y":0.46},{"p":"B4","s":"red","k":"em","x":400,"y":0.48},{"p":"B4","s":"red","k":"em","x":410,"y":0.48},{"p":"B4","s":"red","k":"em","x":420,"y":0.46},{"p":"B4","s":"red","k":"em","x":430,"y":0.42},{"p":"B4","s":"red","k":"em","x":444,"y":0.35},{"p":"B4","s":"red","k":"em","x":458,"y":0.27},{"p":"B4","s":"red","k":"em","x":475,"y":0.2},{"p":"B4","s":"red","k":"em","x":492,"y":0.14},{"p":"B4","s":"red","k":"em","x":509,"y":0.09},{"p":"B4","s":"red","k":"em","x":526,"y":0.06},{"p":"B4","s":"red","k":"em","x":543,"y":0.04},{"p":"B4","s":"red","k":"em","x":560,"y":0.02},{"p":"B4","s":"red","k":"em","x":577,"y":0.01},{"p":"B4","s":"red","k":"em","x":594,"y":0},

{"p":"B5","s":"black","k":"ex","x":281,"y":1.02},{"p":"B5","s":"black","k":"ex","x":284,"y":0.99},{"p":"B5","s":"black","k":"ex","x":289,"y":0.93},{"p":"B5","s":"black","k":"ex","x":294,"y":0.84},{"p":"B5","s":"black","k":"ex","x":299,"y":0.72},{"p":"B5","s":"black","k":"ex","x":305,"y":0.58},{"p":"B5","s":"black","k":"ex","x":309,"y":0.42},{"p":"B5","s":"black","k":"ex","x":313,"y":0.27},{"p":"B5","s":"black","k":"ex","x":317,"y":0.15},{"p":"B5","s":"black","k":"ex","x":321,"y":0.07},{"p":"B5","s":"black","k":"ex","x":325,"y":0.02},{"p":"B5","s":"black","k":"ex","x":329,"y":0},{"p":"B5","s":"black","k":"ex","x":600,"y":0},
{"p":"B5","s":"black","k":"em","x":295,"y":0.03},{"p":"B5","s":"black","k":"em","x":300,"y":0.07},{"p":"B5","s":"black","k":"em","x":306,"y":0.13},{"p":"B5","s":"black","k":"em","x":312,"y":0.2},{"p":"B5","s":"black","k":"em","x":318,"y":0.27},{"p":"B5","s":"black","k":"em","x":325,"y":0.38},{"p":"B5","s":"black","k":"em","x":335,"y":0.51},{"p":"B5","s":"black","k":"em","x":340,"y":0.55},{"p":"B5","s":"black","k":"em","x":346,"y":0.57},{"p":"B5","s":"black","k":"em","x":352,"y":0.52},{"p":"B5","s":"black","k":"em","x":359,"y":0.41},{"p":"B5","s":"black","k":"em","x":367,"y":0.32},{"p":"B5","s":"black","k":"em","x":374,"y":0.27},{"p":"B5","s":"black","k":"em","x":380,"y":0.24},{"p":"B5","s":"black","k":"em","x":390,"y":0.22},{"p":"B5","s":"black","k":"em","x":400,"y":0.21},{"p":"B5","s":"black","k":"em","x":410,"y":0.21},{"p":"B5","s":"black","k":"em","x":422,"y":0.22},{"p":"B5","s":"black","k":"em","x":435,"y":0.22},{"p":"B5","s":"black","k":"em","x":445,"y":0.21},{"p":"B5","s":"black","k":"em","x":455,"y":0.19},{"p":"B5","s":"black","k":"em","x":470,"y":0.16},{"p":"B5","s":"black","k":"em","x":482,"y":0.14},{"p":"B5","s":"black","k":"em","x":496,"y":0.12},{"p":"B5","s":"black","k":"em","x":516,"y":0.09},{"p":"B5","s":"black","k":"em","x":537,"y":0.07},{"p":"B5","s":"black","k":"em","x":557,"y":0.05},{"p":"B5","s":"black","k":"em","x":578,"y":0.03},{"p":"B5","s":"black","k":"em","x":600,"y":0.01},

{"p":"C1","s":"black","k":"ex","x":253,"y":0.86},{"p":"C1","s":"black","k":"ex","x":258,"y":0.7},{"p":"C1","s":"black","k":"ex","x":264,"y":0.58},{"p":"C1","s":"black","k":"ex","x":270,"y":0.5},{"p":"C1","s":"black","k":"ex","x":277,"y":0.46},{"p":"C1","s":"black","k":"ex","x":284,"y":0.48},{"p":"C1","s":"black","k":"ex","x":291,"y":0.54},{"p":"C1","s":"black","k":"ex","x":300,"y":0.65},{"p":"C1","s":"black","k":"ex","x":311,"y":0.79},{"p":"C1","s":"black","k":"ex","x":320,"y":0.85},{"p":"C1","s":"black","k":"ex","x":329,"y":0.86},{"p":"C1","s":"black","k":"ex","x":336,"y":0.8},{"p":"C1","s":"black","k":"ex","x":342,"y":0.72},{"p":"C1","s":"black","k":"ex","x":350,"y":0.55},{"p":"C1","s":"black","k":"ex","x":359,"y":0.37},{"p":"C1","s":"black","k":"ex","x":366,"y":0.22},{"p":"C1","s":"black","k":"ex","x":372,"y":0.11},{"p":"C1","s":"black","k":"ex","x":379,"y":0.04},{"p":"C1","s":"black","k":"ex","x":386,"y":0.01},{"p":"C1","s":"black","k":"ex","x":395,"y":0},{"p":"C1","s":"black","k":"ex","x":600,"y":0},
{"p":"C1","s":"black","k":"em","x":290,"y":0},{"p":"C1","s":"black","k":"em","x":352,"y":0},{"p":"C1","s":"black","k":"em","x":358,"y":0.07},{"p":"C1","s":"black","k":"em","x":365,"y":0.17},{"p":"C1","s":"black","k":"em","x":375,"y":0.32},{"p":"C1","s":"black","k":"em","x":386,"y":0.48},{"p":"C1","s":"black","k":"em","x":396,"y":0.6},{"p":"C1","s":"black","k":"em","x":406,"y":0.7},{"p":"C1","s":"black","k":"em","x":415,"y":0.76},{"p":"C1","s":"black","k":"em","x":424,"y":0.79},{"p":"C1","s":"black","k":"em","x":433,"y":0.76},{"p":"C1","s":"black","k":"em","x":443,"y":0.7},{"p":"C1","s":"black","k":"em","x":455,"y":0.6},{"p":"C1","s":"black","k":"em","x":467,"y":0.48},{"p":"C1","s":"black","k":"em","x":480,"y":0.35},{"p":"C1","s":"black","k":"em","x":494,"y":0.23},{"p":"C1","s":"black","k":"em","x":507,"y":0.14},{"p":"C1","s":"black","k":"em","x":521,"y":0.08},{"p":"C1","s":"black","k":"em","x":535,"y":0.04},{"p":"C1","s":"black","k":"em","x":549,"y":0.02},{"p":"C1","s":"black","k":"em","x":565,"y":0.005},{"p":"C1","s":"black","k":"em","x":576,"y":0},{"p":"C1","s":"black","k":"em","x":600,"y":0},
{"p":"C1","s":"red","k":"ex","x":260,"y":1.02},{"p":"C1","s":"red","k":"ex","x":264,"y":0.96},{"p":"C1","s":"red","k":"ex","x":270,"y":0.82},{"p":"C1","s":"red","k":"ex","x":277,"y":0.72},{"p":"C1","s":"red","k":"ex","x":284,"y":0.7},{"p":"C1","s":"red","k":"ex","x":291,"y":0.7},{"p":"C1","s":"red","k":"ex","x":298,"y":0.72},{"p":"C1","s":"red","k":"ex","x":304,"y":0.73},{"p":"C1","s":"red","k":"ex","x":311,"y":0.74},{"p":"C1","s":"red","k":"ex","x":318,"y":0.74},{"p":"C1","s":"red","k":"ex","x":325,"y":0.72},{"p":"C1","s":"red","k":"ex","x":331,"y":0.7},{"p":"C1","s":"red","k":"ex","x":338,"y":0.64},{"p":"C1","s":"red","k":"ex","x":345,"y":0.58},{"p":"C1","s":"red","k":"ex","x":352,"y":0.51},{"p":"C1","s":"red","k":"ex","x":358,"y":0.41},{"p":"C1","s":"red","k":"ex","x":365,"y":0.3},{"p":"C1","s":"red","k":"ex","x":372,"y":0.2},{"p":"C1","s":"red","k":"ex","x":379,"y":0.13},{"p":"C1","s":"red","k":"ex","x":386,"y":0.07},{"p":"C1","s":"red","k":"ex","x":392,"y":0.03},{"p":"C1","s":"red","k":"ex","x":399,"y":0.01},{"p":"C1","s":"red","k":"ex","x":410,"y":0},{"p":"C1","s":"red","k":"ex","x":600,"y":0},
{"p":"C1","s":"red","k":"em","x":318,"y":0},{"p":"C1","s":"red","k":"em","x":365,"y":0},{"p":"C1","s":"red","k":"em","x":372,"y":0.08},{"p":"C1","s":"red","k":"em","x":379,"y":0.2},{"p":"C1","s":"red","k":"em","x":389,"y":0.35},{"p":"C1","s":"red","k":"em","x":399,"y":0.51},{"p":"C1","s":"red","k":"em","x":410,"y":0.63},{"p":"C1","s":"red","k":"em","x":420,"y":0.73},{"p":"C1","s":"red","k":"em","x":428,"y":0.78},{"p":"C1","s":"red","k":"em","x":435,"y":0.81},{"p":"C1","s":"red","k":"em","x":443,"y":0.79},{"p":"C1","s":"red","k":"em","x":451,"y":0.75},{"p":"C1","s":"red","k":"em","x":462,"y":0.65},{"p":"C1","s":"red","k":"em","x":474,"y":0.53},{"p":"C1","s":"red","k":"em","x":484,"y":0.41},{"p":"C1","s":"red","k":"em","x":494,"y":0.3},{"p":"C1","s":"red","k":"em","x":507,"y":0.2},{"p":"C1","s":"red","k":"em","x":521,"y":0.11},{"p":"C1","s":"red","k":"em","x":535,"y":0.05},{"p":"C1","s":"red","k":"em","x":549,"y":0.02},{"p":"C1","s":"red","k":"em","x":563,"y":0},

{"p":"C2","s":"black","k":"ex","x":266,"y":0.94},{"p":"C2","s":"black","k":"ex","x":271,"y":0.87},{"p":"C2","s":"black","k":"ex","x":277,"y":0.8},{"p":"C2","s":"black","k":"ex","x":284,"y":0.7},{"p":"C2","s":"black","k":"ex","x":291,"y":0.61},{"p":"C2","s":"black","k":"ex","x":298,"y":0.54},{"p":"C2","s":"black","k":"ex","x":305,"y":0.49},{"p":"C2","s":"black","k":"ex","x":312,"y":0.49},{"p":"C2","s":"black","k":"ex","x":319,"y":0.51},{"p":"C2","s":"black","k":"ex","x":326,"y":0.53},{"p":"C2","s":"black","k":"ex","x":332,"y":0.54},{"p":"C2","s":"black","k":"ex","x":339,"y":0.52},{"p":"C2","s":"black","k":"ex","x":346,"y":0.49},{"p":"C2","s":"black","k":"ex","x":356,"y":0.45},{"p":"C2","s":"black","k":"ex","x":367,"y":0.42},{"p":"C2","s":"black","k":"ex","x":377,"y":0.4},{"p":"C2","s":"black","k":"ex","x":387,"y":0.39},{"p":"C2","s":"black","k":"ex","x":394,"y":0.38},{"p":"C2","s":"black","k":"ex","x":401,"y":0.37},{"p":"C2","s":"black","k":"ex","x":408,"y":0.34},{"p":"C2","s":"black","k":"ex","x":415,"y":0.3},{"p":"C2","s":"black","k":"ex","x":425,"y":0.25},{"p":"C2","s":"black","k":"ex","x":435,"y":0.2},{"p":"C2","s":"black","k":"ex","x":445,"y":0.15},{"p":"C2","s":"black","k":"ex","x":456,"y":0.11},{"p":"C2","s":"black","k":"ex","x":470,"y":0.07},{"p":"C2","s":"black","k":"ex","x":483,"y":0.04},{"p":"C2","s":"black","k":"ex","x":497,"y":0.02},{"p":"C2","s":"black","k":"ex","x":511,"y":0.01},{"p":"C2","s":"black","k":"ex","x":525,"y":0},{"p":"C2","s":"black","k":"ex","x":600,"y":0},
{"p":"C2","s":"black","k":"em","x":300,"y":0},{"p":"C2","s":"black","k":"em","x":428,"y":0},{"p":"C2","s":"black","k":"em","x":435,"y":0.06},{"p":"C2","s":"black","k":"em","x":442,"y":0.13},{"p":"C2","s":"black","k":"em","x":449,"y":0.23},{"p":"C2","s":"black","k":"em","x":460,"y":0.36},{"p":"C2","s":"black","k":"em","x":470,"y":0.48},{"p":"C2","s":"black","k":"em","x":480,"y":0.58},{"p":"C2","s":"black","k":"em","x":490,"y":0.67},{"p":"C2","s":"black","k":"em","x":497,"y":0.7},{"p":"C2","s":"black","k":"em","x":504,"y":0.72},{"p":"C2","s":"black","k":"em","x":515,"y":0.73},{"p":"C2","s":"black","k":"em","x":525,"y":0.72},{"p":"C2","s":"black","k":"em","x":535,"y":0.67},{"p":"C2","s":"black","k":"em","x":545,"y":0.61},{"p":"C2","s":"black","k":"em","x":559,"y":0.53},{"p":"C2","s":"black","k":"em","x":573,"y":0.44},{"p":"C2","s":"black","k":"em","x":587,"y":0.35},{"p":"C2","s":"black","k":"em","x":600,"y":0.25},
{"p":"C2","s":"red","k":"ex","x":271,"y":0.92},{"p":"C2","s":"red","k":"ex","x":275,"y":0.84},{"p":"C2","s":"red","k":"ex","x":280,"y":0.75},{"p":"C2","s":"red","k":"ex","x":286,"y":0.67},{"p":"C2","s":"red","k":"ex","x":291,"y":0.6},{"p":"C2","s":"red","k":"ex","x":298,"y":0.54},{"p":"C2","s":"red","k":"ex","x":305,"y":0.49},{"p":"C2","s":"red","k":"ex","x":315,"y":0.47},{"p":"C2","s":"red","k":"ex","x":325,"y":0.46},{"p":"C2","s":"red","k":"ex","x":335,"y":0.45},{"p":"C2","s":"red","k":"ex","x":346,"y":0.44},{"p":"C2","s":"red","k":"ex","x":356,"y":0.43},{"p":"C2","s":"red","k":"ex","x":367,"y":0.41},{"p":"C2","s":"red","k":"ex","x":377,"y":0.39},{"p":"C2","s":"red","k":"ex","x":387,"y":0.37},{"p":"C2","s":"red","k":"ex","x":398,"y":0.35},{"p":"C2","s":"red","k":"ex","x":408,"y":0.32},{"p":"C2","s":"red","k":"ex","x":418,"y":0.28},{"p":"C2","s":"red","k":"ex","x":428,"y":0.22},{"p":"C2","s":"red","k":"ex","x":436,"y":0.16},{"p":"C2","s":"red","k":"ex","x":445,"y":0.11},{"p":"C2","s":"red","k":"ex","x":454,"y":0.06},{"p":"C2","s":"red","k":"ex","x":463,"y":0.03},{"p":"C2","s":"red","k":"ex","x":475,"y":0},{"p":"C2","s":"red","k":"ex","x":600,"y":0},
{"p":"C2","s":"red","k":"em","x":291,"y":0},{"p":"C2","s":"red","k":"em","x":430,"y":0},{"p":"C2","s":"red","k":"em","x":436,"y":0.1},{"p":"C2","s":"red","k":"em","x":442,"y":0.23},{"p":"C2","s":"red","k":"em","x":452,"y":0.37},{"p":"C2","s":"red","k":"em","x":463,"y":0.51},{"p":"C2","s":"red","k":"em","x":473,"y":0.61},{"p":"C2","s":"red","k":"em","x":483,"y":0.7},{"p":"C2","s":"red","k":"em","x":490,"y":0.75},{"p":"C2","s":"red","k":"em","x":497,"y":0.79},{"p":"C2","s":"red","k":"em","x":504,"y":0.8},{"p":"C2","s":"red","k":"em","x":511,"y":0.8},{"p":"C2","s":"red","k":"em","x":519,"y":0.78},{"p":"C2","s":"red","k":"em","x":527,"y":0.75},{"p":"C2","s":"red","k":"em","x":533,"y":0.72},{"p":"C2","s":"red","k":"em","x":538,"y":0.69},

{"p":"C3","s":"black","k":"ex","x":262,"y":1.02},{"p":"C3","s":"black","k":"ex","x":266,"y":0.9},{"p":"C3","s":"black","k":"ex","x":271,"y":0.8},{"p":"C3","s":"black","k":"ex","x":277,"y":0.71},{"p":"C3","s":"black","k":"ex","x":286,"y":0.52},{"p":"C3","s":"black","k":"ex","x":295,"y":0.36},{"p":"C3","s":"black","k":"ex","x":303,"y":0.26},{"p":"C3","s":"black","k":"ex","x":312,"y":0.19},{"p":"C3","s":"black","k":"ex","x":320,"y":0.19},{"p":"C3","s":"black","k":"ex","x":328,"y":0.22},{"p":"C3","s":"black","k":"ex","x":337,"y":0.38},{"p":"C3","s":"black","k":"ex","x":346,"y":0.57},{"p":"C3","s":"black","k":"ex","x":353,"y":0.68},{"p":"C3","s":"black","k":"ex","x":360,"y":0.76},{"p":"C3","s":"black","k":"ex","x":369,"y":0.83},{"p":"C3","s":"black","k":"ex","x":376,"y":0.82},{"p":"C3","s":"black","k":"ex","x":383,"y":0.78},{"p":"C3","s":"black","k":"ex","x":392,"y":0.65},{"p":"C3","s":"black","k":"ex","x":401,"y":0.5},{"p":"C3","s":"black","k":"ex","x":410,"y":0.35},{"p":"C3","s":"black","k":"ex","x":419,"y":0.21},{"p":"C3","s":"black","k":"ex","x":427,"y":0.1},{"p":"C3","s":"black","k":"ex","x":435,"y":0.03},{"p":"C3","s":"black","k":"ex","x":445,"y":0},{"p":"C3","s":"black","k":"ex","x":600,"y":0},
{"p":"C3","s":"black","k":"em","x":291,"y":0},{"p":"C3","s":"black","k":"em","x":380,"y":0},{"p":"C3","s":"black","k":"em","x":387,"y":0.05},{"p":"C3","s":"black","k":"em","x":394,"y":0.12},{"p":"C3","s":"black","k":"em","x":401,"y":0.27},{"p":"C3","s":"black","k":"em","x":408,"y":0.43},{"p":"C3","s":"black","k":"em","x":416,"y":0.58},{"p":"C3","s":"black","k":"em","x":424,"y":0.71},{"p":"C3","s":"black","k":"em","x":432,"y":0.78},{"p":"C3","s":"black","k":"em","x":440,"y":0.82},{"p":"C3","s":"black","k":"em","x":449,"y":0.83},{"p":"C3","s":"black","k":"em","x":460,"y":0.81},{"p":"C3","s":"black","k":"em","x":470,"y":0.76},{"p":"C3","s":"black","k":"em","x":480,"y":0.66},{"p":"C3","s":"black","k":"em","x":490,"y":0.53},{"p":"C3","s":"black","k":"em","x":500,"y":0.43},{"p":"C3","s":"black","k":"em","x":511,"y":0.33},{"p":"C3","s":"black","k":"em","x":524,"y":0.24},{"p":"C3","s":"black","k":"em","x":538,"y":0.16},{"p":"C3","s":"black","k":"em","x":552,"y":0.11},{"p":"C3","s":"black","k":"em","x":566,"y":0.07},{"p":"C3","s":"black","k":"em","x":580,"y":0.04},{"p":"C3","s":"black","k":"em","x":593,"y":0.02},{"p":"C3","s":"black","k":"em","x":600,"y":0.015},
{"p":"C3","s":"red","k":"ex","x":264,"y":0.57},{"p":"C3","s":"red","k":"ex","x":268,"y":0.5},{"p":"C3","s":"red","k":"ex","x":273,"y":0.43},{"p":"C3","s":"red","k":"ex","x":279,"y":0.32},{"p":"C3","s":"red","k":"ex","x":284,"y":0.22},{"p":"C3","s":"red","k":"ex","x":290,"y":0.14},{"p":"C3","s":"red","k":"ex","x":295,"y":0.07},{"p":"C3","s":"red","k":"ex","x":300,"y":0.03},{"p":"C3","s":"red","k":"ex","x":305,"y":0.02},{"p":"C3","s":"red","k":"ex","x":310,"y":0.04},{"p":"C3","s":"red","k":"ex","x":314,"y":0.09},{"p":"C3","s":"red","k":"ex","x":321,"y":0.24},{"p":"C3","s":"red","k":"ex","x":328,"y":0.4},{"p":"C3","s":"red","k":"ex","x":335,"y":0.56},{"p":"C3","s":"red","k":"ex","x":342,"y":0.69},{"p":"C3","s":"red","k":"ex","x":349,"y":0.77},{"p":"C3","s":"red","k":"ex","x":356,"y":0.84},{"p":"C3","s":"red","k":"ex","x":364,"y":0.87},{"p":"C3","s":"red","k":"ex","x":371,"y":0.84},{"p":"C3","s":"red","k":"ex","x":378,"y":0.78},{"p":"C3","s":"red","k":"ex","x":386,"y":0.66},{"p":"C3","s":"red","k":"ex","x":394,"y":0.53},{"p":"C3","s":"red","k":"ex","x":401,"y":0.43},{"p":"C3","s":"red","k":"ex","x":408,"y":0.33},{"p":"C3","s":"red","k":"ex","x":415,"y":0.22},{"p":"C3","s":"red","k":"ex","x":422,"y":0.12},{"p":"C3","s":"red","k":"ex","x":428,"y":0.05},{"p":"C3","s":"red","k":"ex","x":433,"y":0.01},{"p":"C3","s":"red","k":"ex","x":440,"y":0},{"p":"C3","s":"red","k":"ex","x":600,"y":0},
{"p":"C3","s":"red","k":"em","x":291,"y":0},{"p":"C3","s":"red","k":"em","x":387,"y":0},{"p":"C3","s":"red","k":"em","x":394,"y":0.08},{"p":"C3","s":"red","k":"em","x":401,"y":0.21},{"p":"C3","s":"red","k":"em","x":410,"y":0.38},{"p":"C3","s":"red","k":"em","x":419,"y":0.55},{"p":"C3","s":"red","k":"em","x":427,"y":0.68},{"p":"C3","s":"red","k":"em","x":435,"y":0.78},{"p":"C3","s":"red","k":"em","x":444,"y":0.82},{"p":"C3","s":"red","k":"em","x":452,"y":0.84},{"p":"C3","s":"red","k":"em","x":461,"y":0.81},{"p":"C3","s":"red","k":"em","x":470,"y":0.76},{"p":"C3","s":"red","k":"em","x":480,"y":0.65},{"p":"C3","s":"red","k":"em","x":490,"y":0.53},{"p":"C3","s":"red","k":"em","x":500,"y":0.41},{"p":"C3","s":"red","k":"em","x":511,"y":0.29},{"p":"C3","s":"red","k":"em","x":521,"y":0.18},{"p":"C3","s":"red","k":"em","x":531,"y":0.1},{"p":"C3","s":"red","k":"em","x":538,"y":0.09},{"p":"C3","s":"red","k":"em","x":542,"y":0.09},

{"p":"C4","s":"black","k":"ex","x":266,"y":0.58},{"p":"C4","s":"black","k":"ex","x":271,"y":0.6},{"p":"C4","s":"black","k":"ex","x":277,"y":0.62},{"p":"C4","s":"black","k":"ex","x":284,"y":0.7},{"p":"C4","s":"black","k":"ex","x":291,"y":0.77},{"p":"C4","s":"black","k":"ex","x":298,"y":0.81},{"p":"C4","s":"black","k":"ex","x":304,"y":0.83},{"p":"C4","s":"black","k":"ex","x":309,"y":0.8},{"p":"C4","s":"black","k":"ex","x":313,"y":0.75},{"p":"C4","s":"black","k":"ex","x":320,"y":0.62},{"p":"C4","s":"black","k":"ex","x":327,"y":0.48},{"p":"C4","s":"black","k":"ex","x":331,"y":0.38},{"p":"C4","s":"black","k":"ex","x":336,"y":0.29},{"p":"C4","s":"black","k":"ex","x":341,"y":0.2},{"p":"C4","s":"black","k":"ex","x":347,"y":0.12},{"p":"C4","s":"black","k":"ex","x":354,"y":0.06},{"p":"C4","s":"black","k":"ex","x":361,"y":0.02},{"p":"C4","s":"black","k":"ex","x":370,"y":0},{"p":"C4","s":"black","k":"ex","x":600,"y":0},
{"p":"C4","s":"black","k":"em","x":300,"y":0},{"p":"C4","s":"black","k":"em","x":327,"y":0},{"p":"C4","s":"black","k":"em","x":334,"y":0.07},{"p":"C4","s":"black","k":"em","x":340,"y":0.2},{"p":"C4","s":"black","k":"em","x":347,"y":0.34},{"p":"C4","s":"black","k":"em","x":355,"y":0.45},{"p":"C4","s":"black","k":"em","x":363,"y":0.55},{"p":"C4","s":"black","k":"em","x":372,"y":0.6},{"p":"C4","s":"black","k":"em","x":380,"y":0.62},{"p":"C4","s":"black","k":"em","x":388,"y":0.63},{"p":"C4","s":"black","k":"em","x":398,"y":0.61},{"p":"C4","s":"black","k":"em","x":408,"y":0.57},{"p":"C4","s":"black","k":"em","x":420,"y":0.48},{"p":"C4","s":"black","k":"em","x":435,"y":0.36},{"p":"C4","s":"black","k":"em","x":452,"y":0.26},{"p":"C4","s":"black","k":"em","x":469,"y":0.19},{"p":"C4","s":"black","k":"em","x":489,"y":0.14},{"p":"C4","s":"black","k":"em","x":509,"y":0.1},{"p":"C4","s":"black","k":"em","x":530,"y":0.08},{"p":"C4","s":"black","k":"em","x":550,"y":0.06},{"p":"C4","s":"black","k":"em","x":570,"y":0.045},{"p":"C4","s":"black","k":"em","x":590,"y":0.03},{"p":"C4","s":"black","k":"em","x":600,"y":0.03},
{"p":"C4","s":"red","k":"ex","x":266,"y":0.51},{"p":"C4","s":"red","k":"ex","x":271,"y":0.54},{"p":"C4","s":"red","k":"ex","x":277,"y":0.57},{"p":"C4","s":"red","k":"ex","x":284,"y":0.65},{"p":"C4","s":"red","k":"ex","x":291,"y":0.72},{"p":"C4","s":"red","k":"ex","x":298,"y":0.77},{"p":"C4","s":"red","k":"ex","x":304,"y":0.79},{"p":"C4","s":"red","k":"ex","x":311,"y":0.75},{"p":"C4","s":"red","k":"ex","x":318,"y":0.67},{"p":"C4","s":"red","k":"ex","x":325,"y":0.56},{"p":"C4","s":"red","k":"ex","x":331,"y":0.45},{"p":"C4","s":"red","k":"ex","x":338,"y":0.34},{"p":"C4","s":"red","k":"ex","x":345,"y":0.24},{"p":"C4","s":"red","k":"ex","x":350,"y":0.18},{"p":"C4","s":"red","k":"ex","x":354,"y":0.14},{"p":"C4","s":"red","k":"ex","x":361,"y":0.08},{"p":"C4","s":"red","k":"ex","x":368,"y":0.03},{"p":"C4","s":"red","k":"ex","x":375,"y":0},{"p":"C4","s":"red","k":"ex","x":600,"y":0},
{"p":"C4","s":"red","k":"em","x":327,"y":0},{"p":"C4","s":"red","k":"em","x":345,"y":0},{"p":"C4","s":"red","k":"em","x":354,"y":0.1},{"p":"C4","s":"red","k":"em","x":363,"y":0.24},{"p":"C4","s":"red","k":"em","x":372,"y":0.38},{"p":"C4","s":"red","k":"em","x":381,"y":0.48},{"p":"C4","s":"red","k":"em","x":391,"y":0.58},{"p":"C4","s":"red","k":"em","x":400,"y":0.64},{"p":"C4","s":"red","k":"em","x":408,"y":0.68},{"p":"C4","s":"red","k":"em","x":417,"y":0.66},{"p":"C4","s":"red","k":"em","x":426,"y":0.62},{"p":"C4","s":"red","k":"em","x":437,"y":0.52},{"p":"C4","s":"red","k":"em","x":449,"y":0.41},{"p":"C4","s":"red","k":"em","x":462,"y":0.3},{"p":"C4","s":"red","k":"em","x":476,"y":0.21},{"p":"C4","s":"red","k":"em","x":490,"y":0.14},{"p":"C4","s":"red","k":"em","x":503,"y":0.09},{"p":"C4","s":"red","k":"em","x":513,"y":0.05},{"p":"C4","s":"red","k":"em","x":523,"y":0.02},{"p":"C4","s":"red","k":"em","x":536,"y":0},

{"p":"C5","s":"black","k":"ex","x":271,"y":0.86},{"p":"C5","s":"black","k":"ex","x":277,"y":0.9},{"p":"C5","s":"black","k":"ex","x":284,"y":0.93},{"p":"C5","s":"black","k":"ex","x":289,"y":0.87},{"p":"C5","s":"black","k":"ex","x":294,"y":0.79},{"p":"C5","s":"black","k":"ex","x":300,"y":0.62},{"p":"C5","s":"black","k":"ex","x":305,"y":0.45},{"p":"C5","s":"black","k":"ex","x":310,"y":0.3},{"p":"C5","s":"black","k":"ex","x":316,"y":0.15},{"p":"C5","s":"black","k":"ex","x":320,"y":0.07},{"p":"C5","s":"black","k":"ex","x":325,"y":0.02},{"p":"C5","s":"black","k":"ex","x":332,"y":0},{"p":"C5","s":"black","k":"ex","x":600,"y":0},
{"p":"C5","s":"black","k":"em","x":305,"y":0.02},{"p":"C5","s":"black","k":"em","x":311,"y":0.15},{"p":"C5","s":"black","k":"em","x":318,"y":0.32},{"p":"C5","s":"black","k":"em","x":325,"y":0.45},{"p":"C5","s":"black","k":"em","x":330,"y":0.53},{"p":"C5","s":"black","k":"em","x":335,"y":0.58},{"p":"C5","s":"black","k":"em","x":341,"y":0.53},{"p":"C5","s":"black","k":"em","x":348,"y":0.45},{"p":"C5","s":"black","k":"em","x":357,"y":0.36},{"p":"C5","s":"black","k":"em","x":366,"y":0.3},{"p":"C5","s":"black","k":"em","x":376,"y":0.28},{"p":"C5","s":"black","k":"em","x":387,"y":0.27},{"p":"C5","s":"black","k":"em","x":397,"y":0.28},{"p":"C5","s":"black","k":"em","x":407,"y":0.3},{"p":"C5","s":"black","k":"em","x":420,"y":0.31},{"p":"C5","s":"black","k":"em","x":435,"y":0.32},{"p":"C5","s":"black","k":"em","x":445,"y":0.3},{"p":"C5","s":"black","k":"em","x":455,"y":0.27},{"p":"C5","s":"black","k":"em","x":468,"y":0.24},{"p":"C5","s":"black","k":"em","x":482,"y":0.2},{"p":"C5","s":"black","k":"em","x":500,"y":0.16},{"p":"C5","s":"black","k":"em","x":517,"y":0.13},{"p":"C5","s":"black","k":"em","x":535,"y":0.1},{"p":"C5","s":"black","k":"em","x":551,"y":0.08},{"p":"C5","s":"black","k":"em","x":570,"y":0.05},{"p":"C5","s":"black","k":"em","x":592,"y":0.02},{"p":"C5","s":"black","k":"em","x":600,"y":0.015},
{"p":"C5","s":"red","k":"ex","x":264,"y":1.02},{"p":"C5","s":"red","k":"ex","x":266,"y":0.98},{"p":"C5","s":"red","k":"ex","x":271,"y":0.88},{"p":"C5","s":"red","k":"ex","x":277,"y":0.79},{"p":"C5","s":"red","k":"ex","x":283,"y":0.66},{"p":"C5","s":"red","k":"ex","x":288,"y":0.56},{"p":"C5","s":"red","k":"ex","x":295,"y":0.4},{"p":"C5","s":"red","k":"ex","x":302,"y":0.25},{"p":"C5","s":"red","k":"ex","x":309,"y":0.15},{"p":"C5","s":"red","k":"ex","x":316,"y":0.08},{"p":"C5","s":"red","k":"ex","x":324,"y":0.04},{"p":"C5","s":"red","k":"ex","x":332,"y":0.02},{"p":"C5","s":"red","k":"ex","x":345,"y":0.01},{"p":"C5","s":"red","k":"ex","x":355,"y":0},{"p":"C5","s":"red","k":"ex","x":600,"y":0},
{"p":"C5","s":"red","k":"em","x":320,"y":0},{"p":"C5","s":"red","k":"em","x":332,"y":0.1},{"p":"C5","s":"red","k":"em","x":339,"y":0.35},{"p":"C5","s":"red","k":"em","x":346,"y":0.54},{"p":"C5","s":"red","k":"em","x":352,"y":0.69},{"p":"C5","s":"red","k":"em","x":357,"y":0.77},{"p":"C5","s":"red","k":"em","x":362,"y":0.82},{"p":"C5","s":"red","k":"em","x":367,"y":0.75},{"p":"C5","s":"red","k":"em","x":371,"y":0.67},{"p":"C5","s":"red","k":"em","x":376,"y":0.59},{"p":"C5","s":"red","k":"em","x":385,"y":0.45},{"p":"C5","s":"red","k":"em","x":394,"y":0.32},{"p":"C5","s":"red","k":"em","x":404,"y":0.21},{"p":"C5","s":"red","k":"em","x":414,"y":0.12},{"p":"C5","s":"red","k":"em","x":424,"y":0.06},{"p":"C5","s":"red","k":"em","x":435,"y":0.02},{"p":"C5","s":"red","k":"em","x":448,"y":0},{"p":"C5","s":"red","k":"em","x":462,"y":0},{"p":"C5","s":"red","k":"em","x":471,"y":0.04},{"p":"C5","s":"red","k":"em","x":480,"y":0.08},{"p":"C5","s":"red","k":"em","x":487,"y":0.13},{"p":"C5","s":"red","k":"em","x":493,"y":0.17},{"p":"C5","s":"red","k":"em","x":500,"y":0.15},{"p":"C5","s":"red","k":"em","x":507,"y":0.12},{"p":"C5","s":"red","k":"em","x":515,"y":0.08},{"p":"C5","s":"red","k":"em","x":523,"y":0.05},{"p":"C5","s":"red","k":"em","x":530,"y":0.02},{"p":"C5","s":"red","k":"em","x":537,"y":0}
]
},
"vconcat": [
{"vconcat": [
{"title": {"text": "A Origin and pre-treatment", "anchor": "start", "fontSize": 18, "fontWeight": "bold", "offset": 2},
 "bounds": "flush",
 "hconcat": [
 {"width": 86, "height": 98, "title": {"text": "F\u00a0\u00a0\u00a0\u00a0\u00a0\u200b", "subtitle": "\u200b\u00a0\u00a0\u00a0\u00a0420", "fontSize": 14, "fontWeight": "bold", "subtitleFontSize": 12, "subtitleFontWeight": "bold", "offset": 0, "subtitlePadding": 0},
  "encoding": {"x": {"field": "x", "type": "quantitative", "scale": {"domain": [250, 600], "nice": false, "zero": false}, "axis": {"values": [300, 450, 600], "labels": false, "title": null}}, "y": {"field": "y", "type": "quantitative", "scale": {"domain": [0, 1], "nice": false}, "axis": {"values": [0.29, 0.58, 0.87], "labels": false, "title": null}}},
  "layer": [
   {"data": {"name": "labels"}, "transform": [{"filter": "datum.p == 'A1'"}], "mark": {"type": "text", "align": "right", "baseline": "alphabetic", "fontSize": 14}, "encoding": {"text": {"field": "t"}}},
   {"data": {"name": "curves"}, "transform": [{"filter": "datum.p == 'A1'"}], "mark": {"type": "line", "strokeWidth": 3, "clip": true, "strokeJoin": "round"}, "encoding": {"color": {"field": "s", "type": "nominal", "scale": {"domain": ["black", "red"], "range": ["#000000", "#ff0000"]}, "legend": null}, "strokeDash": {"field": "k", "type": "nominal", "scale": {"domain": ["ex", "em"], "range": [[7, 3], [1, 0]]}, "legend": null}}}
  ]},
 {"width": 86, "height": 98, "title": {"text": "F\u00a0\u00a0\u00a0\u00a0\u00a0\u00a0\u00a0\u200b", "subtitle": "\u200b\u00a0\u00a0520", "fontSize": 14, "fontWeight": "bold", "subtitleFontSize": 12, "subtitleFontWeight": "bold", "offset": 0, "subtitlePadding": 0},
  "encoding": {"x": {"field": "x", "type": "quantitative", "scale": {"domain": [250, 600], "nice": false, "zero": false}, "axis": {"values": [300, 450, 600], "labels": false, "title": null}}, "y": {"field": "y", "type": "quantitative", "scale": {"domain": [0, 1], "nice": false}, "axis": {"values": [0.29, 0.58, 0.87], "labels": false, "title": null}}},
  "layer": [
   {"data": {"name": "labels"}, "transform": [{"filter": "datum.p == 'A2'"}], "mark": {"type": "text", "align": "right", "baseline": "alphabetic", "fontSize": 14}, "encoding": {"text": {"field": "t"}}},
   {"data": {"name": "curves"}, "transform": [{"filter": "datum.p == 'A2'"}], "mark": {"type": "line", "strokeWidth": 3, "clip": true, "strokeJoin": "round"}, "encoding": {"color": {"field": "s", "type": "nominal", "scale": {"domain": ["black", "red"], "range": ["#000000", "#ff0000"]}, "legend": null}, "strokeDash": {"field": "k", "type": "nominal", "scale": {"domain": ["ex", "em"], "range": [[7, 3], [1, 0]]}, "legend": null}}}
  ]},
 {"width": 86, "height": 98, "title": {"text": "F\u00a0\u00a0\u00a0\u00a0\u00a0\u00a0\u00a0\u200b", "subtitle": "\u200b\u00a0\u00a0450", "fontSize": 14, "fontWeight": "bold", "subtitleFontSize": 12, "subtitleFontWeight": "bold", "offset": 0, "subtitlePadding": 0},
  "encoding": {"x": {"field": "x", "type": "quantitative", "scale": {"domain": [250, 600], "nice": false, "zero": false}, "axis": {"values": [300, 450, 600], "labels": false, "title": null}}, "y": {"field": "y", "type": "quantitative", "scale": {"domain": [0, 1], "nice": false}, "axis": {"values": [0.29, 0.58, 0.87], "labels": false, "title": null}}},
  "layer": [
   {"data": {"name": "labels"}, "transform": [{"filter": "datum.p == 'A3'"}], "mark": {"type": "text", "align": "right", "baseline": "alphabetic", "fontSize": 14}, "encoding": {"text": {"field": "t"}}},
   {"data": {"name": "curves"}, "transform": [{"filter": "datum.p == 'A3'"}], "mark": {"type": "line", "strokeWidth": 3, "clip": true, "strokeJoin": "round"}, "encoding": {"color": {"field": "s", "type": "nominal", "scale": {"domain": ["black", "red"], "range": ["#000000", "#ff0000"]}, "legend": null}, "strokeDash": {"field": "k", "type": "nominal", "scale": {"domain": ["ex", "em"], "range": [[7, 3], [1, 0]]}, "legend": null}}}
  ]},
 {"width": 86, "height": 98, "title": {"text": "F\u00a0\u00a0\u00a0\u00a0\u00a0\u00a0\u00a0\u200b", "subtitle": "\u200b\u00a0\u00a0400", "fontSize": 14, "fontWeight": "bold", "subtitleFontSize": 12, "subtitleFontWeight": "bold", "offset": 0, "subtitlePadding": 0},
  "encoding": {"x": {"field": "x", "type": "quantitative", "scale": {"domain": [250, 600], "nice": false, "zero": false}, "axis": {"values": [300, 450, 600], "labels": false, "title": null}}, "y": {"field": "y", "type": "quantitative", "scale": {"domain": [0, 1], "nice": false}, "axis": {"values": [0.29, 0.58, 0.87], "labels": false, "title": null}}},
  "layer": [
   {"data": {"name": "labels"}, "transform": [{"filter": "datum.p == 'A4'"}], "mark": {"type": "text", "align": "right", "baseline": "alphabetic", "fontSize": 14}, "encoding": {"text": {"field": "t"}}},
   {"data": {"name": "curves"}, "transform": [{"filter": "datum.p == 'A4'"}], "mark": {"type": "line", "strokeWidth": 3, "clip": true, "strokeJoin": "round"}, "encoding": {"color": {"field": "s", "type": "nominal", "scale": {"domain": ["black", "red"], "range": ["#000000", "#ff0000"]}, "legend": null}, "strokeDash": {"field": "k", "type": "nominal", "scale": {"domain": ["ex", "em"], "range": [[7, 3], [1, 0]]}, "legend": null}}}
  ]},
 {"width": 86, "height": 98, "title": {"text": "F\u00a0\u00a0\u00a0\u00a0\u00a0\u00a0\u00a0\u200b", "subtitle": "\u200bP\u00a0\u200b", "fontSize": 14, "fontWeight": "bold", "subtitleFontSize": 12, "subtitleFontWeight": "bold", "offset": 0, "subtitlePadding": 0},
  "encoding": {"x": {"field": "x", "type": "quantitative", "scale": {"domain": [250, 600], "nice": false, "zero": false}, "axis": {"values": [300, 450, 600], "labels": false, "title": null}}, "y": {"field": "y", "type": "quantitative", "scale": {"domain": [0, 1], "nice": false}, "axis": {"values": [0.29, 0.58, 0.87], "labels": false, "title": null}}},
  "layer": [
   {"data": {"name": "curves"}, "transform": [{"filter": "datum.p == 'A5'"}], "mark": {"type": "line", "strokeWidth": 3, "clip": true, "strokeJoin": "round"}, "encoding": {"color": {"field": "s", "type": "nominal", "scale": {"domain": ["black", "red"], "range": ["#000000", "#ff0000"]}, "legend": null}, "strokeDash": {"field": "k", "type": "nominal", "scale": {"domain": ["ex", "em"], "range": [[7, 3], [1, 0]]}, "legend": null}}}
  ]}
 ]},
{"title": {"text": "B Origin and pre-treatment", "anchor": "start", "fontSize": 18, "fontWeight": "bold", "offset": 2},
 "bounds": "flush",
 "hconcat": [
 {"width": 86, "height": 98,
  "encoding": {"x": {"field": "x", "type": "quantitative", "scale": {"domain": [250, 600], "nice": false, "zero": false}, "axis": {"values": [300, 450, 600], "labels": false, "title": null}}, "y": {"field": "y", "type": "quantitative", "scale": {"domain": [0, 1], "nice": false}, "axis": {"values": [0.29, 0.58, 0.87], "labels": false, "title": null}}},
  "layer": [
   {"data": {"name": "labels"}, "transform": [{"filter": "datum.p == 'B1'"}], "mark": {"type": "text", "align": "right", "baseline": "alphabetic", "fontSize": 14}, "encoding": {"text": {"field": "t"}}},
   {"data": {"name": "curves"}, "transform": [{"filter": "datum.p == 'B1'"}], "mark": {"type": "line", "strokeWidth": 3, "clip": true, "strokeJoin": "round"}, "encoding": {"color": {"field": "s", "type": "nominal", "scale": {"domain": ["black", "red"], "range": ["#000000", "#ff0000"]}, "legend": null}, "strokeDash": {"field": "k", "type": "nominal", "scale": {"domain": ["ex", "em"], "range": [[7, 3], [1, 0]]}, "legend": null}}}
  ]},
 {"width": 86, "height": 98,
  "encoding": {"x": {"field": "x", "type": "quantitative", "scale": {"domain": [250, 600], "nice": false, "zero": false}, "axis": {"values": [300, 450, 600], "labels": false, "title": null}}, "y": {"field": "y", "type": "quantitative", "scale": {"domain": [0, 1], "nice": false}, "axis": {"values": [0.29, 0.58, 0.87], "labels": false, "title": null}}},
  "layer": [
   {"data": {"name": "labels"}, "transform": [{"filter": "datum.p == 'B2'"}], "mark": {"type": "text", "align": "right", "baseline": "alphabetic", "fontSize": 14}, "encoding": {"text": {"field": "t"}}},
   {"data": {"name": "curves"}, "transform": [{"filter": "datum.p == 'B2'"}], "mark": {"type": "line", "strokeWidth": 3, "clip": true, "strokeJoin": "round"}, "encoding": {"color": {"field": "s", "type": "nominal", "scale": {"domain": ["black", "red"], "range": ["#000000", "#ff0000"]}, "legend": null}, "strokeDash": {"field": "k", "type": "nominal", "scale": {"domain": ["ex", "em"], "range": [[7, 3], [1, 0]]}, "legend": null}}}
  ]},
 {"width": 86, "height": 98,
  "encoding": {"x": {"field": "x", "type": "quantitative", "scale": {"domain": [250, 600], "nice": false, "zero": false}, "axis": {"values": [300, 450, 600], "labels": false, "title": null}}, "y": {"field": "y", "type": "quantitative", "scale": {"domain": [0, 1], "nice": false}, "axis": {"values": [0.29, 0.58, 0.87], "labels": false, "title": null}}},
  "layer": [
   {"data": {"name": "labels"}, "transform": [{"filter": "datum.p == 'B3'"}], "mark": {"type": "text", "align": "right", "baseline": "alphabetic", "fontSize": 14}, "encoding": {"text": {"field": "t"}}},
   {"data": {"name": "curves"}, "transform": [{"filter": "datum.p == 'B3'"}], "mark": {"type": "line", "strokeWidth": 3, "clip": true, "strokeJoin": "round"}, "encoding": {"color": {"field": "s", "type": "nominal", "scale": {"domain": ["black", "red"], "range": ["#000000", "#ff0000"]}, "legend": null}, "strokeDash": {"field": "k", "type": "nominal", "scale": {"domain": ["ex", "em"], "range": [[7, 3], [1, 0]]}, "legend": null}}}
  ]},
 {"width": 86, "height": 98,
  "encoding": {"x": {"field": "x", "type": "quantitative", "scale": {"domain": [250, 600], "nice": false, "zero": false}, "axis": {"values": [300, 450, 600], "labels": false, "title": null}}, "y": {"field": "y", "type": "quantitative", "scale": {"domain": [0, 1], "nice": false}, "axis": {"values": [0.29, 0.58, 0.87], "labels": false, "title": null}}},
  "layer": [
   {"data": {"name": "labels"}, "transform": [{"filter": "datum.p == 'B4'"}], "mark": {"type": "text", "align": "right", "baseline": "alphabetic", "fontSize": 14}, "encoding": {"text": {"field": "t"}}},
   {"data": {"name": "curves"}, "transform": [{"filter": "datum.p == 'B4'"}], "mark": {"type": "line", "strokeWidth": 3, "clip": true, "strokeJoin": "round"}, "encoding": {"color": {"field": "s", "type": "nominal", "scale": {"domain": ["black", "red"], "range": ["#000000", "#ff0000"]}, "legend": null}, "strokeDash": {"field": "k", "type": "nominal", "scale": {"domain": ["ex", "em"], "range": [[7, 3], [1, 0]]}, "legend": null}}}
  ]},
 {"width": 86, "height": 98,
  "encoding": {"x": {"field": "x", "type": "quantitative", "scale": {"domain": [250, 600], "nice": false, "zero": false}, "axis": {"values": [300, 450, 600], "labels": false, "title": null}}, "y": {"field": "y", "type": "quantitative", "scale": {"domain": [0, 1], "nice": false}, "axis": {"values": [0.29, 0.58, 0.87], "labels": false, "title": null}}},
  "layer": [
   {"data": {"name": "curves"}, "transform": [{"filter": "datum.p == 'B5'"}], "mark": {"type": "line", "strokeWidth": 3, "clip": true, "strokeJoin": "round"}, "encoding": {"color": {"field": "s", "type": "nominal", "scale": {"domain": ["black", "red"], "range": ["#000000", "#ff0000"]}, "legend": null}, "strokeDash": {"field": "k", "type": "nominal", "scale": {"domain": ["ex", "em"], "range": [[7, 3], [1, 0]]}, "legend": null}}}
  ]}
 ]}
], "spacing": 5},
{"title": {"text": "C  Origin, pre-treatment and experimental gradient", "anchor": "start", "fontSize": 18, "fontWeight": "bold", "offset": 2},
 "bounds": "flush",
 "hconcat": [
 {"width": 86, "height": 98,
  "encoding": {"x": {"field": "x", "type": "quantitative", "scale": {"domain": [250, 600], "nice": false, "zero": false}, "axis": {"values": [300, 450, 600], "title": null}}, "y": {"field": "y", "type": "quantitative", "scale": {"domain": [0, 1], "nice": false}, "axis": {"values": [0.29, 0.58, 0.87], "labels": false, "title": null}}},
  "layer": [
   {"data": {"name": "labels"}, "transform": [{"filter": "datum.p == 'C1'"}], "mark": {"type": "text", "align": "right", "baseline": "alphabetic", "fontSize": 14}, "encoding": {"text": {"field": "t"}}},
   {"data": {"name": "curves"}, "transform": [{"filter": "datum.p == 'C1'"}], "mark": {"type": "line", "strokeWidth": 3, "clip": true, "strokeJoin": "round"}, "encoding": {"color": {"field": "s", "type": "nominal", "scale": {"domain": ["black", "red"], "range": ["#000000", "#ff0000"]}, "legend": null}, "strokeDash": {"field": "k", "type": "nominal", "scale": {"domain": ["ex", "em"], "range": [[7, 3], [1, 0]]}, "legend": null}}}
  ]},
 {"width": 86, "height": 98,
  "encoding": {"x": {"field": "x", "type": "quantitative", "scale": {"domain": [250, 600], "nice": false, "zero": false}, "axis": {"values": [300, 450, 600], "title": null}}, "y": {"field": "y", "type": "quantitative", "scale": {"domain": [0, 1], "nice": false}, "axis": {"values": [0.29, 0.58, 0.87], "labels": false, "title": null}}},
  "layer": [
   {"data": {"name": "labels"}, "transform": [{"filter": "datum.p == 'C2'"}], "mark": {"type": "text", "align": "right", "baseline": "alphabetic", "fontSize": 14}, "encoding": {"text": {"field": "t"}}},
   {"data": {"name": "curves"}, "transform": [{"filter": "datum.p == 'C2'"}], "mark": {"type": "line", "strokeWidth": 3, "clip": true, "strokeJoin": "round"}, "encoding": {"color": {"field": "s", "type": "nominal", "scale": {"domain": ["black", "red"], "range": ["#000000", "#ff0000"]}, "legend": null}, "strokeDash": {"field": "k", "type": "nominal", "scale": {"domain": ["ex", "em"], "range": [[7, 3], [1, 0]]}, "legend": null}}}
  ]},
 {"width": 86, "height": 98,
  "encoding": {"x": {"field": "x", "type": "quantitative", "scale": {"domain": [250, 600], "nice": false, "zero": false}, "axis": {"values": [300, 450, 600], "title": "wavelength (nm)", "titlePadding": 10}}, "y": {"field": "y", "type": "quantitative", "scale": {"domain": [0, 1], "nice": false}, "axis": {"values": [0.29, 0.58, 0.87], "labels": false, "title": null}}},
  "layer": [
   {"data": {"name": "labels"}, "transform": [{"filter": "datum.p == 'C3'"}], "mark": {"type": "text", "align": "right", "baseline": "alphabetic", "fontSize": 14}, "encoding": {"text": {"field": "t"}}},
   {"data": {"name": "curves"}, "transform": [{"filter": "datum.p == 'C3'"}], "mark": {"type": "line", "strokeWidth": 3, "clip": true, "strokeJoin": "round"}, "encoding": {"color": {"field": "s", "type": "nominal", "scale": {"domain": ["black", "red"], "range": ["#000000", "#ff0000"]}, "legend": null}, "strokeDash": {"field": "k", "type": "nominal", "scale": {"domain": ["ex", "em"], "range": [[7, 3], [1, 0]]}, "legend": null}}}
  ]},
 {"width": 86, "height": 98,
  "encoding": {"x": {"field": "x", "type": "quantitative", "scale": {"domain": [250, 600], "nice": false, "zero": false}, "axis": {"values": [300, 450, 600], "title": null}}, "y": {"field": "y", "type": "quantitative", "scale": {"domain": [0, 1], "nice": false}, "axis": {"values": [0.29, 0.58, 0.87], "labels": false, "title": null}}},
  "layer": [
   {"data": {"name": "labels"}, "transform": [{"filter": "datum.p == 'C4'"}], "mark": {"type": "text", "align": "right", "baseline": "alphabetic", "fontSize": 14}, "encoding": {"text": {"field": "t"}}},
   {"data": {"name": "curves"}, "transform": [{"filter": "datum.p == 'C4'"}], "mark": {"type": "line", "strokeWidth": 3, "clip": true, "strokeJoin": "round"}, "encoding": {"color": {"field": "s", "type": "nominal", "scale": {"domain": ["black", "red"], "range": ["#000000", "#ff0000"]}, "legend": null}, "strokeDash": {"field": "k", "type": "nominal", "scale": {"domain": ["ex", "em"], "range": [[7, 3], [1, 0]]}, "legend": null}}}
  ]},
 {"width": 86, "height": 98,
  "encoding": {"x": {"field": "x", "type": "quantitative", "scale": {"domain": [250, 600], "nice": false, "zero": false}, "axis": {"values": [300, 450, 600], "title": null}}, "y": {"field": "y", "type": "quantitative", "scale": {"domain": [0, 1], "nice": false}, "axis": {"values": [0.29, 0.58, 0.87], "labels": false, "title": null}}},
  "layer": [
   {"data": {"name": "labels"}, "transform": [{"filter": "datum.p == 'C5'"}], "mark": {"type": "text", "align": "right", "baseline": "alphabetic", "fontSize": 14}, "encoding": {"text": {"field": "t"}}},
   {"data": {"name": "curves"}, "transform": [{"filter": "datum.p == 'C5'"}], "mark": {"type": "line", "strokeWidth": 3, "clip": true, "strokeJoin": "round"}, "encoding": {"color": {"field": "s", "type": "nominal", "scale": {"domain": ["black", "red"], "range": ["#000000", "#ff0000"]}, "legend": null}, "strokeDash": {"field": "k", "type": "nominal", "scale": {"domain": ["ex", "em"], "range": [[7, 3], [1, 0]]}, "legend": null}}}
  ]}
 ]}
],
"spacing": 25
}
